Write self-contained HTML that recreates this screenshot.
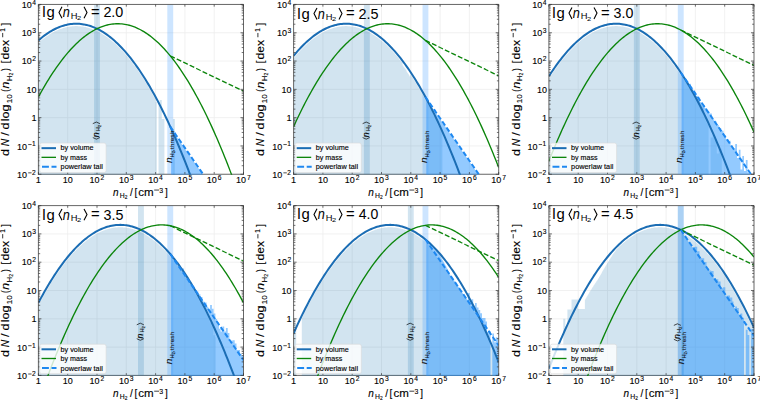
<!DOCTYPE html>
<html><head><meta charset="utf-8"><style>html,body{margin:0;padding:0;background:#fff;width:760px;height:400px;overflow:hidden}svg{display:block}</style></head>
<body>
<svg width="760" height="400" viewBox="0 0 760 400" style="font-family:'Liberation Sans',sans-serif">
<style>text{stroke:#000;stroke-width:0.12px}.t text{stroke:none}</style>
<rect width="760" height="400" fill="#fff"/>
<clipPath id="c0"><rect x="38.40" y="4.45" width="205.10" height="170.30"/></clipPath>
<path d="M38.00,174.25H243.90" stroke="#4a4a4a" stroke-width="0.85"/>
<g clip-path="url(#c0)">
<line x1="67.70" y1="4.45" x2="67.70" y2="174.25" stroke="#eeeeee" stroke-width="0.8"/>
<line x1="97.00" y1="4.45" x2="97.00" y2="174.25" stroke="#eeeeee" stroke-width="0.8"/>
<line x1="126.30" y1="4.45" x2="126.30" y2="174.25" stroke="#eeeeee" stroke-width="0.8"/>
<line x1="155.60" y1="4.45" x2="155.60" y2="174.25" stroke="#eeeeee" stroke-width="0.8"/>
<line x1="184.90" y1="4.45" x2="184.90" y2="174.25" stroke="#eeeeee" stroke-width="0.8"/>
<line x1="214.20" y1="4.45" x2="214.20" y2="174.25" stroke="#eeeeee" stroke-width="0.8"/>
<line x1="38.40" y1="145.95" x2="243.50" y2="145.95" stroke="#eeeeee" stroke-width="0.8"/>
<line x1="38.40" y1="117.65" x2="243.50" y2="117.65" stroke="#eeeeee" stroke-width="0.8"/>
<line x1="38.40" y1="89.35" x2="243.50" y2="89.35" stroke="#eeeeee" stroke-width="0.8"/>
<line x1="38.40" y1="61.05" x2="243.50" y2="61.05" stroke="#eeeeee" stroke-width="0.8"/>
<line x1="38.40" y1="32.75" x2="243.50" y2="32.75" stroke="#eeeeee" stroke-width="0.8"/>
<path d="M38.4,176.2V42.6H39.0V42.1H39.6V41.6H40.2V41.1H40.7V40.6H41.3V40.1H41.9V39.6H42.5V39.2H43.1V38.7H43.7V38.3H44.3V37.8H44.8V37.4H45.4V37.0H46.0V36.6H46.6V36.2H47.2V35.8H47.8V35.4H48.4V35.0H48.9V34.6H49.5V34.3H50.1V33.9H50.7V33.6H51.3V33.2H51.9V32.9H52.5V32.6H53.0V32.3H53.6V31.9H54.2V31.6H54.8V31.3H55.4V31.1H56.0V30.8H56.6V30.5H57.2V30.3H57.7V30.0H58.3V29.8H58.9V29.5H59.5V29.3H60.1V29.1H60.7V28.9H61.3V28.7H61.8V28.5H62.4V28.3H63.0V28.1H63.6V27.9H64.2V27.7H64.8V27.6H65.4V27.4H65.9V27.3H66.5V27.2H67.1V27.0H67.7V26.9H68.3V26.8H68.9V26.7H69.5V26.6H70.0V26.5H70.6V26.5H71.2V26.4H71.8V26.3H72.4V26.3H73.0V26.2H73.6V26.2H74.1V26.2H74.7V26.1H75.3V26.1H75.9V26.1H76.5V26.1H77.1V26.1H77.7V26.2H78.2V26.2H78.8V26.2H79.4V26.3H80.0V26.3H80.6V26.4H81.2V26.4H81.8V26.5H82.3V26.6H82.9V26.7H83.5V26.8H84.1V26.9H84.7V27.0H85.3V27.1H85.9V27.3H86.5V27.4H87.0V27.6H87.6V27.7H88.2V27.9H88.8V28.0H89.4V28.2H90.0V28.4H90.6V28.6H91.1V28.8H91.7V29.0H92.3V29.2H92.9V29.5H93.5V29.7H94.1V29.9H94.7V30.2H95.2V30.5H95.8V30.7H96.4V31.0H97.0V31.3H97.6V31.6H98.2V31.9H98.8V32.2H99.3V32.5H99.9V32.8H100.5V33.1H101.1V33.5H101.7V33.8H102.3V34.2H102.9V34.5H103.4V34.9H104.0V35.3H104.6V35.7H105.2V36.1H105.8V36.5H106.4V36.9H107.0V37.3H107.5V37.7H108.1V38.2H108.7V38.6H109.3V39.1H109.9V39.5H110.5V40.0H111.1V40.5H111.7V41.0H112.2V41.4H112.8V41.9H113.4V42.4H114.0V43.0H114.6V43.5H115.2V44.0H115.8V44.6H116.3V45.1H116.9V45.7H117.5V46.2H118.1V46.8H118.7V47.4H119.3V48.0H119.9V48.6H120.4V49.2H121.0V49.8H121.6V50.4H122.2V51.0H122.8V51.6H123.4V52.3H124.0V52.9H124.5V53.6H125.1V54.3H125.7V54.9H126.3V55.6H126.9V56.3H127.5V57.0H128.1V57.7H128.6V58.4H129.2V59.2H129.8V59.9H130.4V60.6H131.0V61.4H131.6V62.1H132.2V62.9H132.7V63.7H133.3V64.4H133.9V65.2H134.5V66.0H135.1V66.8H135.7V67.6H136.3V68.5H136.8V69.3H137.4V70.1H138.0V71.0H138.6V71.8H139.2V72.7H139.8V73.5H140.4V74.4H140.9V75.3H141.5V76.2H142.1V77.1H142.7V78.0H143.3V78.9H143.9V79.8H144.5V80.8H145.1V81.7H145.6V82.7H146.2V83.6H146.8V84.6H147.4V85.5H148.0V86.5H148.6V87.5H149.2V88.5H149.7V89.5H150.3V90.5H150.9V91.5H151.5V92.6H152.1V93.6H152.7V94.6H153.3V95.7H153.8V96.8H154.4V97.8H155.0V98.9H155.6V102.1H156.8V176.2ZM158.5,176.2V102.1H159.7V100.1H161.8V119.1H164.4V176.2ZM172.9,176.2V119.1H174.9V176.2Z" fill="#1f77b4" fill-opacity="0.20"/>
<path d="M171.1,176.2V129.2H171.7V130.0H172.3V130.9H172.9V131.7H173.5V132.6H174.1V133.4H174.6V134.2H175.2V135.1H175.8V135.9H176.4V136.8H177.0V137.6H177.6V138.5H178.2V139.3H178.7V140.2H179.3V141.0H179.9V141.9H180.5V142.7H181.1V143.6H181.7V144.4H182.3V145.3H182.8V146.1H183.4V147.0H184.0V147.8H184.6V148.7H185.2V149.5H185.8V150.4H186.4V151.2H187.0V152.1H187.5V152.9H188.1V153.8H188.7V154.6H189.3V155.5H189.9V156.3H190.5V157.2H191.1V158.0H191.6V158.9H192.2V159.7H192.8V160.6H193.4V161.4H194.0V162.3H194.6V163.1H195.2V164.0H195.7V164.8H196.3V165.7H196.9V166.5H197.5V167.4H198.1V168.2H198.7V169.1H199.3V169.9H199.8V170.8H200.4V171.6H201.0V172.5H201.6V173.3H202.2V174.2H202.8V175.0H203.4V175.8H203.9V176.7H204.5V177.5H205.1V178.4H205.7V179.2H206.3V176.2Z" fill="#1e90ff" fill-opacity="0.48"/>
<rect x="94.07" y="4.45" width="5.86" height="169.80" fill="#1f77b4" fill-opacity="0.2"/>
<rect x="167.32" y="4.45" width="5.86" height="169.80" fill="#3c9cff" fill-opacity="0.26"/>
<polyline points="38.40,40.43 39.87,39.16 41.33,37.94 42.80,36.78 44.26,35.66 45.72,34.59 47.19,33.57 48.66,32.61 50.12,31.69 51.59,30.82 53.05,30.00 54.52,29.24 55.98,28.52 57.45,27.85 58.91,27.23 60.38,26.67 61.84,26.15 63.30,25.68 64.77,25.26 66.23,24.90 67.70,24.58 69.16,24.31 70.63,24.09 72.09,23.93 73.56,23.81 75.03,23.74 76.49,23.72 77.95,23.76 79.42,23.84 80.88,23.97 82.35,24.15 83.81,24.39 85.28,24.67 86.75,25.00 88.21,25.38 89.67,25.82 91.14,26.30 92.60,26.83 94.07,27.41 95.53,28.05 97.00,28.73 98.46,29.46 99.93,30.24 101.39,31.08 102.86,31.96 104.32,32.89 105.79,33.87 107.25,34.91 108.72,35.99 110.19,37.12 111.65,38.30 113.11,39.54 114.58,40.82 116.04,42.15 117.51,43.53 118.97,44.97 120.44,46.45 121.91,47.98 123.37,49.56 124.84,51.20 126.30,52.88 127.76,54.61 129.23,56.39 130.69,58.23 132.16,60.11 133.62,62.04 135.09,64.02 136.56,66.06 138.02,68.14 139.49,70.27 140.95,72.45 142.41,74.69 143.88,76.97 145.34,79.30 146.81,81.69 148.28,84.12 149.74,86.60 151.21,89.13 152.67,91.72 154.13,94.35 155.60,97.03 157.06,99.76 158.53,102.55 160.00,105.38 161.46,108.26 162.92,111.19 164.39,114.18 165.85,117.21 167.32,120.29 168.79,123.42 170.25,126.61 171.72,129.84 173.18,133.12 174.65,136.46 176.11,139.84 177.58,143.27 179.04,146.75 180.50,150.29 181.97,153.87 183.44,157.50 184.90,161.18 186.37,164.92 187.83,168.70 189.30,172.53 190.76,176.41 192.22,180.35 193.69,184.33 195.16,188.36 196.62,192.45 198.09,196.58 199.55,200.76 201.01,204.99 202.48,209.28 203.94,213.61 205.41,217.99 206.88,222.42 208.34,226.91 209.80,231.44 211.27,236.02 212.73,240.65 214.20,245.34 215.66,250.07 217.13,254.85 218.60,259.69 220.06,264.57 221.53,269.50 222.99,274.48 224.46,279.52 225.92,284.60 227.39,289.73 228.85,294.91 230.31,300.15 231.78,305.43 233.25,310.76 234.71,316.15 236.18,321.58 237.64,327.06 239.10,332.59 240.57,338.18 242.03,343.81 243.50,349.49" fill="none" stroke="#1b6db4" stroke-width="2.00"/>
<polyline points="38.40,97.03 39.87,94.35 41.33,91.72 42.80,89.13 44.26,86.60 45.72,84.12 47.19,81.69 48.66,79.30 50.12,76.97 51.59,74.69 53.05,72.45 54.52,70.27 55.98,68.14 57.45,66.06 58.91,64.02 60.38,62.04 61.84,60.11 63.30,58.23 64.77,56.39 66.23,54.61 67.70,52.88 69.16,51.20 70.63,49.56 72.09,47.98 73.56,46.45 75.03,44.97 76.49,43.53 77.95,42.15 79.42,40.82 80.88,39.54 82.35,38.30 83.81,37.12 85.28,35.99 86.75,34.91 88.21,33.87 89.67,32.89 91.14,31.96 92.60,31.08 94.07,30.24 95.53,29.46 97.00,28.73 98.46,28.05 99.93,27.41 101.39,26.83 102.86,26.30 104.32,25.82 105.79,25.38 107.25,25.00 108.72,24.67 110.19,24.39 111.65,24.15 113.11,23.97 114.58,23.84 116.04,23.76 117.51,23.72 118.97,23.74 120.44,23.81 121.91,23.93 123.37,24.09 124.84,24.31 126.30,24.58 127.76,24.90 129.23,25.26 130.69,25.68 132.16,26.15 133.62,26.67 135.09,27.23 136.56,27.85 138.02,28.52 139.49,29.24 140.95,30.00 142.41,30.82 143.88,31.69 145.34,32.61 146.81,33.57 148.28,34.59 149.74,35.66 151.21,36.78 152.67,37.94 154.13,39.16 155.60,40.43 157.06,41.75 158.53,43.11 160.00,44.53 161.46,46.00 162.92,47.52 164.39,49.08 165.85,50.70 167.32,52.37 168.79,54.09 170.25,55.85 171.72,57.67 173.18,59.54 174.65,61.46 176.11,63.42 177.58,65.44 179.04,67.51 180.50,69.63 181.97,71.79 183.44,74.01 184.90,76.28 186.37,78.60 187.83,80.97 189.30,83.38 190.76,85.85 192.22,88.37 193.69,90.94 195.16,93.55 196.62,96.22 198.09,98.94 199.55,101.71 201.01,104.52 202.48,107.39 203.94,110.31 205.41,113.28 206.88,116.29 208.34,119.36 209.80,122.48 211.27,125.65 212.73,128.86 214.20,132.13 215.66,135.45 217.13,138.82 218.60,142.24 220.06,145.70 221.53,149.22 222.99,152.79 224.46,156.41 225.92,160.07 227.39,163.79 228.85,167.56 230.31,171.38 231.78,175.24 233.25,179.16 234.71,183.13 236.18,187.15 237.64,191.22 239.10,195.33 240.57,199.50 242.03,203.72 243.50,207.99" fill="none" stroke="#0b850b" stroke-width="1.35"/>
<polyline points="170.25,55.85 170.77,56.11 171.30,56.36 171.82,56.61 172.34,56.86 172.87,57.12 173.39,57.37 173.91,57.62 174.44,57.88 174.96,58.13 175.48,58.38 176.01,58.63 176.53,58.89 177.05,59.14 177.58,59.39 178.10,59.64 178.62,59.90 179.14,60.15 179.67,60.40 180.19,60.66 180.71,60.91 181.24,61.16 181.76,61.41 182.28,61.67 182.81,61.92 183.33,62.17 183.85,62.42 184.38,62.68 184.90,62.93 185.42,63.18 185.95,63.43 186.47,63.69 186.99,63.94 187.52,64.19 188.04,64.45 188.56,64.70 189.09,64.95 189.61,65.20 190.13,65.46 190.66,65.71 191.18,65.96 191.70,66.21 192.22,66.47 192.75,66.72 193.27,66.97 193.79,67.22 194.32,67.48 194.84,67.73 195.36,67.98 195.89,68.24 196.41,68.49 196.93,68.74 197.46,68.99 197.98,69.25 198.50,69.50 199.03,69.75 199.55,70.00 200.07,70.26 200.60,70.51 201.12,70.76 201.64,71.01 202.17,71.27 202.69,71.52 203.21,71.77 203.74,72.03 204.26,72.28 204.78,72.53 205.31,72.78 205.83,73.04 206.35,73.29 206.88,73.54 207.40,73.79 207.92,74.05 208.44,74.30 208.97,74.55 209.49,74.81 210.01,75.06 210.54,75.31 211.06,75.56 211.58,75.82 212.11,76.07 212.63,76.32 213.15,76.57 213.68,76.83 214.20,77.08 214.72,77.33 215.25,77.58 215.77,77.84 216.29,78.09 216.82,78.34 217.34,78.60 217.86,78.85 218.39,79.10 218.91,79.35 219.43,79.61 219.96,79.86 220.48,80.11 221.00,80.36 221.53,80.62 222.05,80.87 222.57,81.12 223.09,81.37 223.62,81.63 224.14,81.88 224.66,82.13 225.19,82.39 225.71,82.64 226.23,82.89 226.76,83.14 227.28,83.40 227.80,83.65 228.33,83.90 228.85,84.15 229.37,84.41 229.90,84.66 230.42,84.91 230.94,85.16 231.47,85.42 231.99,85.67 232.51,85.92 233.04,86.18 233.56,86.43 234.08,86.68 234.61,86.93 235.13,87.19 235.65,87.44 236.18,87.69 236.70,87.94 237.22,88.20 237.74,88.45 238.27,88.70 238.79,88.96 239.31,89.21 239.84,89.46 240.36,89.71 240.88,89.97 241.41,90.22 241.93,90.47 242.45,90.72 242.98,90.98 243.50,91.23" fill="none" stroke="#0b850b" stroke-width="1.35" stroke-dasharray="5,2.2"/>
<polyline points="170.25,126.61 170.77,127.37 171.30,128.12 171.82,128.88 172.34,129.64 172.87,130.40 173.39,131.16 173.91,131.91 174.44,132.67 174.96,133.43 175.48,134.19 176.01,134.95 176.53,135.70 177.05,136.46 177.58,137.22 178.10,137.98 178.62,138.74 179.14,139.49 179.67,140.25 180.19,141.01 180.71,141.77 181.24,142.53 181.76,143.28 182.28,144.04 182.81,144.80 183.33,145.56 183.85,146.32 184.38,147.07 184.90,147.83 185.42,148.59 185.95,149.35 186.47,150.11 186.99,150.86 187.52,151.62 188.04,152.38 188.56,153.14 189.09,153.90 189.61,154.65 190.13,155.41 190.66,156.17 191.18,156.93 191.70,157.69 192.22,158.44 192.75,159.20 193.27,159.96 193.79,160.72 194.32,161.48 194.84,162.24 195.36,162.99 195.89,163.75 196.41,164.51 196.93,165.27 197.46,166.03 197.98,166.78 198.50,167.54 199.03,168.30 199.55,169.06 200.07,169.82 200.60,170.57 201.12,171.33 201.64,172.09 202.17,172.85 202.69,173.61 203.21,174.36 203.74,175.12 204.26,175.88 204.78,176.64 205.31,177.40 205.83,178.15 206.35,178.91 206.88,179.67 207.40,180.43 207.92,181.19 208.44,181.94 208.97,182.70 209.49,183.46 210.01,184.22 210.54,184.98 211.06,185.73 211.58,186.49 212.11,187.25 212.63,188.01 213.15,188.77 213.68,189.52 214.20,190.28 214.72,191.04 215.25,191.80 215.77,192.56 216.29,193.31 216.82,194.07 217.34,194.83 217.86,195.59 218.39,196.35 218.91,197.10 219.43,197.86 219.96,198.62 220.48,199.38 221.00,200.14 221.53,200.89 222.05,201.65 222.57,202.41 223.09,203.17 223.62,203.93 224.14,204.69 224.66,205.44 225.19,206.20 225.71,206.96 226.23,207.72 226.76,208.48 227.28,209.23 227.80,209.99 228.33,210.75 228.85,211.51 229.37,212.27 229.90,213.02 230.42,213.78 230.94,214.54 231.47,215.30 231.99,216.06 232.51,216.81 233.04,217.57 233.56,218.33 234.08,219.09 234.61,219.85 235.13,220.60 235.65,221.36 236.18,222.12 236.70,222.88 237.22,223.64 237.74,224.39 238.27,225.15 238.79,225.91 239.31,226.67 239.84,227.43 240.36,228.18 240.88,228.94 241.41,229.70 241.93,230.46 242.45,231.22 242.98,231.97 243.50,232.73" fill="none" stroke="#1e88f0" stroke-width="2.00" stroke-dasharray="5,2.4"/>
</g>
<g transform="translate(99.10,139.25) rotate(-90)">
<path d="M1.7,-6.3L0.1,-2.75L1.7,0.8" stroke="#111" stroke-width="0.75" fill="none"/>
<text x="1.9" y="0" font-size="8.8" font-style="italic" fill="#111" stroke="#111" stroke-width="0.2">n</text>
<text x="7.9" y="1.1" font-size="5.8" fill="#111" stroke="#111" stroke-width="0.15">H</text>
<text x="11.9" y="1.9" font-size="4.2" fill="#111">2</text>
<path d="M15.6,-6.3L17.2,-2.75L15.6,0.8" stroke="#111" stroke-width="0.75" fill="none"/>
</g>
<g transform="translate(171.65,162.75) rotate(-90)">
<text transform="scale(1.15,1)" x="-0.3" y="0" font-size="8.8" font-style="italic" fill="#111" stroke="#111" stroke-width="0.2">n</text>
<text x="5.3" y="2.2" font-size="5.8" fill="#111">H</text>
<text x="9.4" y="2.9" font-size="4.3" fill="#111">2</text>
<text x="11.4" y="2.2" font-size="5.8" fill="#111">,</text>
<text x="13.6" y="2.2" font-size="5.8" fill="#333" stroke="none" textLength="18.5" lengthAdjust="spacingAndGlyphs">thresh</text>
</g>
<path d="M38.40,174.65V4.45H243.50V174.65" fill="none" stroke="#4a4a4a" stroke-width="0.85"/>
<path d="M38.40,174.25v-2.2M38.40,4.45v2.2M67.70,174.25v-2.2M67.70,4.45v2.2M97.00,174.25v-2.2M97.00,4.45v2.2M126.30,174.25v-2.2M126.30,4.45v2.2M155.60,174.25v-2.2M155.60,4.45v2.2M184.90,174.25v-2.2M184.90,4.45v2.2M214.20,174.25v-2.2M214.20,4.45v2.2M243.50,174.25v-2.2M243.50,4.45v2.2M38.40,174.25h3M243.50,174.25h-3M38.40,165.73h1.8M243.50,165.73h-1.8M38.40,160.75h1.8M243.50,160.75h-1.8M38.40,157.21h1.8M243.50,157.21h-1.8M38.40,154.47h1.8M243.50,154.47h-1.8M38.40,152.23h1.8M243.50,152.23h-1.8M38.40,150.33h1.8M243.50,150.33h-1.8M38.40,148.69h1.8M243.50,148.69h-1.8M38.40,147.24h1.8M243.50,147.24h-1.8M38.40,145.95h3M243.50,145.95h-3M38.40,137.43h1.8M243.50,137.43h-1.8M38.40,132.45h1.8M243.50,132.45h-1.8M38.40,128.91h1.8M243.50,128.91h-1.8M38.40,126.17h1.8M243.50,126.17h-1.8M38.40,123.93h1.8M243.50,123.93h-1.8M38.40,122.03h1.8M243.50,122.03h-1.8M38.40,120.39h1.8M243.50,120.39h-1.8M38.40,118.94h1.8M243.50,118.94h-1.8M38.40,117.65h3M243.50,117.65h-3M38.40,109.13h1.8M243.50,109.13h-1.8M38.40,104.15h1.8M243.50,104.15h-1.8M38.40,100.61h1.8M243.50,100.61h-1.8M38.40,97.87h1.8M243.50,97.87h-1.8M38.40,95.63h1.8M243.50,95.63h-1.8M38.40,93.73h1.8M243.50,93.73h-1.8M38.40,92.09h1.8M243.50,92.09h-1.8M38.40,90.64h1.8M243.50,90.64h-1.8M38.40,89.35h3M243.50,89.35h-3M38.40,80.83h1.8M243.50,80.83h-1.8M38.40,75.85h1.8M243.50,75.85h-1.8M38.40,72.31h1.8M243.50,72.31h-1.8M38.40,69.57h1.8M243.50,69.57h-1.8M38.40,67.33h1.8M243.50,67.33h-1.8M38.40,65.43h1.8M243.50,65.43h-1.8M38.40,63.79h1.8M243.50,63.79h-1.8M38.40,62.34h1.8M243.50,62.34h-1.8M38.40,61.05h3M243.50,61.05h-3M38.40,52.53h1.8M243.50,52.53h-1.8M38.40,47.55h1.8M243.50,47.55h-1.8M38.40,44.01h1.8M243.50,44.01h-1.8M38.40,41.27h1.8M243.50,41.27h-1.8M38.40,39.03h1.8M243.50,39.03h-1.8M38.40,37.13h1.8M243.50,37.13h-1.8M38.40,35.49h1.8M243.50,35.49h-1.8M38.40,34.04h1.8M243.50,34.04h-1.8M38.40,32.75h3M243.50,32.75h-3M38.40,24.23h1.8M243.50,24.23h-1.8M38.40,19.25h1.8M243.50,19.25h-1.8M38.40,15.71h1.8M243.50,15.71h-1.8M38.40,12.97h1.8M243.50,12.97h-1.8M38.40,10.73h1.8M243.50,10.73h-1.8M38.40,8.83h1.8M243.50,8.83h-1.8M38.40,7.19h1.8M243.50,7.19h-1.8M38.40,5.74h1.8M243.50,5.74h-1.8M38.40,4.45h3M243.50,4.45h-3" stroke="#333" stroke-width="0.7" fill="none"/>
<rect x="39.70" y="143.05" width="66.4" height="29.5" rx="2" fill="#fff" fill-opacity="0.8" stroke="#d8d8d8" stroke-width="0.6"/>
<path d="M41.50,148.15h14.5" stroke="#1b6db4" stroke-width="2"/>
<path d="M41.50,157.35h14.5" stroke="#0b850b" stroke-width="1.35"/>
<path d="M42.00,166.85h14.5" stroke="#1e88f0" stroke-width="2" stroke-dasharray="6.9,2.6"/>
<text x="60.60" y="150.35" font-size="7.0" textLength="33" lengthAdjust="spacingAndGlyphs">by volume</text>
<text x="60.60" y="159.85" font-size="7.0" textLength="26.5" lengthAdjust="spacingAndGlyphs">by mass</text>
<text x="60.60" y="169.45" font-size="7.0" textLength="42.3" lengthAdjust="spacingAndGlyphs">powerlaw tail</text>
<text x="38.40" y="182.65" font-size="9.2" text-anchor="middle">1</text>
<text x="67.70" y="182.65" font-size="9.2" text-anchor="middle" textLength="10" lengthAdjust="spacingAndGlyphs">10</text>
<text x="89.60" y="182.65" font-size="9.2" textLength="10" lengthAdjust="spacingAndGlyphs">10</text>
<text x="100.50" y="179.65" font-size="6.7">2</text>
<text x="118.90" y="182.65" font-size="9.2" textLength="10" lengthAdjust="spacingAndGlyphs">10</text>
<text x="129.80" y="179.65" font-size="6.7">3</text>
<text x="148.20" y="182.65" font-size="9.2" textLength="10" lengthAdjust="spacingAndGlyphs">10</text>
<text x="159.10" y="179.65" font-size="6.7">4</text>
<text x="177.50" y="182.65" font-size="9.2" textLength="10" lengthAdjust="spacingAndGlyphs">10</text>
<text x="188.40" y="179.65" font-size="6.7">5</text>
<text x="206.80" y="182.65" font-size="9.2" textLength="10" lengthAdjust="spacingAndGlyphs">10</text>
<text x="217.70" y="179.65" font-size="6.7">6</text>
<text x="236.10" y="182.65" font-size="9.2" textLength="10" lengthAdjust="spacingAndGlyphs">10</text>
<text x="247.00" y="179.65" font-size="6.7">7</text>
<text x="17.10" y="177.95" font-size="9.2" textLength="10" lengthAdjust="spacingAndGlyphs">10</text>
<path d="M28.20,172.85h3.4" stroke="#000" stroke-width="0.7"/>
<text x="32.00" y="174.75" font-size="6.6">2</text>
<text x="17.10" y="149.65" font-size="9.2" textLength="10" lengthAdjust="spacingAndGlyphs">10</text>
<path d="M28.20,144.55h3.4" stroke="#000" stroke-width="0.7"/>
<text x="32.00" y="146.45" font-size="6.6">1</text>
<text x="36.50" y="121.05" font-size="9.2" text-anchor="end">1</text>
<text x="36.40" y="92.75" font-size="9.2" text-anchor="end" textLength="10" lengthAdjust="spacingAndGlyphs">10</text>
<text x="21.80" y="64.15" font-size="9.2" textLength="10" lengthAdjust="spacingAndGlyphs">10</text>
<text x="32.30" y="61.15" font-size="6.7">2</text>
<text x="21.80" y="35.85" font-size="9.2" textLength="10" lengthAdjust="spacingAndGlyphs">10</text>
<text x="32.30" y="32.85" font-size="6.7">3</text>
<text x="21.80" y="7.55" font-size="9.2" textLength="10" lengthAdjust="spacingAndGlyphs">10</text>
<text x="32.30" y="4.55" font-size="6.7">4</text>
<text x="113.00" y="195.55" font-size="10" font-style="italic">n</text>
<text x="119.70" y="197.55" font-size="6.8">H</text>
<text x="124.80" y="198.65" font-size="4.8">2</text>
<text x="130.10" y="195.55" font-size="10">/</text>
<text x="134.40" y="195.55" font-size="10">[</text>
<text x="138.20" y="195.55" font-size="10" textLength="15.4" lengthAdjust="spacingAndGlyphs">cm</text>
<path d="M154.20,190.05h4.9" stroke="#000" stroke-width="0.75"/>
<text x="159.30" y="192.55" font-size="6.9">3</text>
<text x="165.00" y="195.55" font-size="10">]</text>
<g transform="translate(9.10,156.05) rotate(-90)">
<text transform="translate(0.70,0.00) scale(1.197,1)" x="-0.44" y="0" font-size="10.40">d</text>
<text transform="translate(10.20,0.00) scale(0.987,1)" x="-0.32" y="0" font-size="10.40" font-style="italic">N</text>
<text transform="translate(20.20,0.00) scale(1.246,1)" x="-0.00" y="0" font-size="10.40">/</text>
<text transform="translate(27.20,0.00) scale(1.197,1)" x="-0.44" y="0" font-size="10.40">d</text>
<text transform="translate(35.70,0.00) scale(1.207,1)" x="-0.70" y="0" font-size="10.40">log</text>
<text transform="translate(53.45,2.60) scale(1.098,1)" x="-0.56" y="0" font-size="7.40">10</text>
<text transform="translate(64.70,0.00) scale(0.800,1)" x="-0.64" y="0" font-size="10.40">(</text>
<text transform="translate(67.70,0.00) scale(1.187,1)" x="-0.17" y="0" font-size="10.40" font-style="italic">n</text>
<text transform="translate(75.40,2.60) scale(1.094,1)" x="-0.59" y="0" font-size="7.20">H</text>
<text transform="translate(80.80,3.80) scale(0.971,1)" x="-0.26" y="0" font-size="5.20">2</text>
<text transform="translate(85.20,0.00) scale(0.800,1)" x="-0.06" y="0" font-size="10.40">)</text>
<text transform="translate(93.40,0.00) scale(0.919,1)" x="-0.74" y="0" font-size="10.40">[</text>
<text transform="translate(97.10,0.00) scale(1.171,1)" x="-0.44" y="0" font-size="10.40">dex</text>
<text transform="translate(124.80,-3.90) scale(0.846,1)" x="-0.56" y="0" font-size="7.40">1</text>
<text transform="translate(130.50,0.00) scale(0.919,1)" x="-0.08" y="0" font-size="10.40">]</text>
<path d="M118.8,-6.4h4.3" stroke="#000" stroke-width="0.8"/>
</g>
<g class="t">
<text transform="translate(43.25,17.40) scale(1.059,1)" x="-0.98" y="0" font-size="14.50">l</text>
<text transform="translate(47.10,17.40) scale(1.027,1)" x="-0.61" y="0" font-size="14.50">g</text>
<path d="M62.00,6.80L59.00,12.40L62.00,18.20" stroke="#000" stroke-width="1.1" fill="none"/>
<text transform="translate(63.00,17.40) scale(0.879,1)" x="-0.24" y="0" font-size="14.50" font-style="italic">n</text>
<text transform="translate(71.40,18.50) scale(1.108,1)" x="-0.69" y="0" font-size="8.40">H</text>
<text transform="translate(77.30,20.20) scale(1.204,1)" x="-0.31" y="0" font-size="6.20">2</text>
<path d="M84.00,6.80L87.00,12.40L84.00,18.20" stroke="#000" stroke-width="1.1" fill="none"/>
<text transform="translate(91.60,17.10) scale(1.022,1)" x="-0.71" y="0" font-size="14.50">=</text>
<text transform="translate(104.10,17.40) scale(0.958,1)" x="-0.75" y="0" font-size="15.00">2.0</text>
</g>
<clipPath id="c1"><rect x="293.60" y="4.45" width="205.10" height="170.30"/></clipPath>
<path d="M293.20,174.25H499.10" stroke="#4a4a4a" stroke-width="0.85"/>
<g clip-path="url(#c1)">
<line x1="322.90" y1="4.45" x2="322.90" y2="174.25" stroke="#eeeeee" stroke-width="0.8"/>
<line x1="352.20" y1="4.45" x2="352.20" y2="174.25" stroke="#eeeeee" stroke-width="0.8"/>
<line x1="381.50" y1="4.45" x2="381.50" y2="174.25" stroke="#eeeeee" stroke-width="0.8"/>
<line x1="410.80" y1="4.45" x2="410.80" y2="174.25" stroke="#eeeeee" stroke-width="0.8"/>
<line x1="440.10" y1="4.45" x2="440.10" y2="174.25" stroke="#eeeeee" stroke-width="0.8"/>
<line x1="469.40" y1="4.45" x2="469.40" y2="174.25" stroke="#eeeeee" stroke-width="0.8"/>
<line x1="293.60" y1="145.95" x2="498.70" y2="145.95" stroke="#eeeeee" stroke-width="0.8"/>
<line x1="293.60" y1="117.65" x2="498.70" y2="117.65" stroke="#eeeeee" stroke-width="0.8"/>
<line x1="293.60" y1="89.35" x2="498.70" y2="89.35" stroke="#eeeeee" stroke-width="0.8"/>
<line x1="293.60" y1="61.05" x2="498.70" y2="61.05" stroke="#eeeeee" stroke-width="0.8"/>
<line x1="293.60" y1="32.75" x2="498.70" y2="32.75" stroke="#eeeeee" stroke-width="0.8"/>
<path d="M293.6,176.2V57.9H294.2V57.2H294.8V56.5H295.4V55.8H295.9V55.1H296.5V54.4H297.1V53.8H297.7V53.1H298.3V52.5H298.9V51.8H299.5V51.2H300.0V50.5H300.6V49.9H301.2V49.3H301.8V48.7H302.4V48.1H303.0V47.5H303.6V46.9H304.1V46.4H304.7V45.8H305.3V45.2H305.9V44.7H306.5V44.2H307.1V43.6H307.7V43.1H308.2V42.6H308.8V42.1H309.4V41.6H310.0V41.1H310.6V40.6H311.2V40.1H311.8V39.6H312.4V39.2H312.9V38.7H313.5V38.3H314.1V37.8H314.7V37.4H315.3V37.0H315.9V36.6H316.5V36.2H317.0V35.8H317.6V35.4H318.2V35.0H318.8V34.6H319.4V34.3H320.0V33.9H320.6V33.6H321.1V33.2H321.7V32.9H322.3V32.6H322.9V32.3H323.5V31.9H324.1V31.6H324.7V31.3H325.2V31.1H325.8V30.8H326.4V30.5H327.0V30.3H327.6V30.0H328.2V29.8H328.8V29.5H329.3V29.3H329.9V29.1H330.5V28.9H331.1V28.7H331.7V28.5H332.3V28.3H332.9V28.1H333.4V27.9H334.0V27.7H334.6V27.6H335.2V27.4H335.8V27.3H336.4V27.2H337.0V27.0H337.6V26.9H338.1V26.8H338.7V26.7H339.3V26.6H339.9V26.5H340.5V26.5H341.1V26.4H341.7V26.3H342.2V26.3H342.8V26.2H343.4V26.2H344.0V26.2H344.6V26.1H345.2V26.1H345.8V26.1H346.3V26.1H346.9V26.1H347.5V26.2H348.1V26.2H348.7V26.2H349.3V26.3H349.9V26.3H350.4V26.4H351.0V26.4H351.6V26.5H352.2V26.6H352.8V26.7H353.4V26.8H354.0V26.9H354.5V27.0H355.1V27.1H355.7V27.3H356.3V27.4H356.9V27.6H357.5V27.7H358.1V27.9H358.6V28.0H359.2V28.2H359.8V28.4H360.4V28.6H361.0V28.8H361.6V29.0H362.2V29.2H362.7V29.5H363.3V29.7H363.9V29.9H364.5V30.2H365.1V30.5H365.7V30.7H366.3V31.0H366.9V31.3H367.4V31.6H368.0V31.9H368.6V32.2H369.2V32.5H369.8V32.8H370.4V33.1H371.0V33.5H371.5V33.8H372.1V34.2H372.7V34.5H373.3V34.9H373.9V35.3H374.5V35.7H375.1V36.1H375.6V36.5H376.2V36.9H376.8V37.3H377.4V37.7H378.0V38.2H378.6V38.6H379.2V39.1H379.7V39.5H380.3V40.0H380.9V40.5H381.5V41.0H382.1V41.4H382.7V41.9H383.3V42.4H383.8V43.0H384.4V43.5H385.0V44.0H385.6V44.6H386.2V45.1H386.8V45.7H387.4V46.2H387.9V46.8H388.5V47.4H389.1V48.0H389.7V48.6H390.3V49.2H390.9V49.8H391.5V50.4H392.0V51.0H392.6V51.6H393.2V52.3H393.8V52.9H394.4V53.6H395.0V54.3H395.6V54.9H396.2V55.6H396.7V56.3H397.3V57.0H397.9V57.7H398.5V58.4H399.1V59.2H399.7V59.9H400.3V60.6H400.8V61.4H401.4V62.1H402.0V62.9H402.6V65.6H403.2V66.4H403.8V67.2H404.4V68.0H404.9V68.8H405.5V69.6H406.1V70.4H406.7V72.1H407.3V73.0H407.9V73.8H408.5V74.6H409.0V75.5H409.6V76.4H410.2V74.4H410.8V75.3H411.4V76.2H412.0V77.1H412.6V78.0H413.1V78.9H413.7V79.8H414.3V80.8H414.9V81.7H415.5V82.7H416.1V83.6H416.7V84.6H417.2V85.5H417.8V86.5H418.4V87.5H419.0V88.5H419.6V89.5H420.2V90.5H420.8V91.5H421.3V92.6H421.9V93.6H422.5V94.6H423.1V95.7H423.7V96.8H424.3V97.8H424.9V98.9H425.5V100.0H426.0V101.1H426.6V102.2H427.2V103.3H427.8V104.4H428.4V105.5H429.0V106.6H429.6V107.8H430.1V108.9H430.7V110.1H431.3V111.2H431.9V112.4H432.5V113.6H433.1V114.8H433.7V116.0H434.2V117.2H434.8V118.4H435.4V119.6H436.0V120.8H436.6V122.1H437.2V123.3H437.8V124.6H438.3V125.8H438.9V127.1H439.5V128.4H440.1V129.7H440.7V130.9H441.3V132.2H441.9V133.6H442.4V176.2Z" fill="#1f77b4" fill-opacity="0.20"/>
<path d="M426.3,176.2V99.6H426.9V100.4H427.5V101.3H428.1V102.1H428.7V103.0H429.3V103.8H429.8V104.7H430.4V105.5H431.0V106.4H431.6V107.2H432.2V108.1H432.8V108.9H433.4V109.8H433.9V110.6H434.5V111.5H435.1V112.3H435.7V113.2H436.3V114.0H436.9V114.9H437.5V115.7H438.0V116.6H438.6V117.4H439.2V118.3H439.8V119.1H440.4V120.0H441.0V120.8H441.6V121.7H442.2V122.5H442.7V123.4H443.3V124.2H443.9V125.0H444.5V125.9H445.1V126.7H445.7V127.6H446.3V128.4H446.8V129.3H447.4V130.1H448.0V131.0H448.6V131.8H449.2V132.7H449.8V133.5H450.4V134.4H450.9V135.2H451.5V136.1H452.1V136.9H452.7V137.8H453.3V138.6H453.9V139.5H454.5V140.3H455.0V141.2H455.6V142.0H456.2V142.9H456.8V143.7H457.4V144.6H458.0V145.4H458.6V146.3H459.1V147.1H459.7V148.0H460.3V148.8H460.9V149.7H461.5V150.5H462.1V151.4H462.7V152.2H463.2V153.1H463.8V153.9H464.4V154.8H465.0V155.6H465.6V156.5H466.2V157.3H466.8V158.2H467.3V159.0H467.9V159.9H468.5V160.7H469.1V161.6H469.7V162.4H470.3V163.3H470.9V164.1H471.5V165.0H472.0V165.8H472.6V166.6H473.2V167.5H473.8V168.3H474.4V169.2H475.0V170.0H475.6V170.9H476.1V171.7H476.7V172.6H477.3V173.4H477.9V174.3H478.5V175.1H479.1V176.0H479.7V176.8H480.2V177.7H480.8V178.5H481.4V179.4H482.0V176.2Z" fill="#1e90ff" fill-opacity="0.48"/>
<rect x="363.92" y="4.45" width="5.86" height="169.80" fill="#1f77b4" fill-opacity="0.2"/>
<rect x="422.52" y="4.45" width="5.86" height="169.80" fill="#3c9cff" fill-opacity="0.26"/>
<polyline points="293.60,55.85 295.06,54.09 296.53,52.37 298.00,50.70 299.46,49.08 300.93,47.52 302.39,46.00 303.86,44.53 305.32,43.11 306.79,41.75 308.25,40.43 309.72,39.16 311.18,37.94 312.65,36.78 314.11,35.66 315.58,34.59 317.04,33.57 318.50,32.61 319.97,31.69 321.44,30.82 322.90,30.00 324.37,29.24 325.83,28.52 327.30,27.85 328.76,27.23 330.23,26.67 331.69,26.15 333.16,25.68 334.62,25.26 336.09,24.90 337.55,24.58 339.02,24.31 340.48,24.09 341.95,23.93 343.41,23.81 344.88,23.74 346.34,23.72 347.81,23.76 349.27,23.84 350.74,23.97 352.20,24.15 353.67,24.39 355.13,24.67 356.60,25.00 358.06,25.38 359.53,25.82 360.99,26.30 362.46,26.83 363.92,27.41 365.39,28.05 366.85,28.73 368.31,29.46 369.78,30.24 371.25,31.08 372.71,31.96 374.18,32.89 375.64,33.87 377.11,34.91 378.57,35.99 380.04,37.12 381.50,38.30 382.97,39.54 384.43,40.82 385.90,42.15 387.36,43.53 388.83,44.97 390.29,46.45 391.75,47.98 393.22,49.56 394.69,51.20 396.15,52.88 397.62,54.61 399.08,56.39 400.55,58.23 402.01,60.11 403.48,62.04 404.94,64.02 406.41,66.06 407.87,68.14 409.34,70.27 410.80,72.45 412.26,74.69 413.73,76.97 415.20,79.30 416.66,81.69 418.12,84.12 419.59,86.60 421.06,89.13 422.52,91.72 423.99,94.35 425.45,97.03 426.92,99.76 428.38,102.55 429.85,105.38 431.31,108.26 432.78,111.19 434.24,114.18 435.71,117.21 437.17,120.29 438.63,123.42 440.10,126.61 441.57,129.84 443.03,133.12 444.50,136.46 445.96,139.84 447.43,143.27 448.89,146.75 450.36,150.29 451.82,153.87 453.29,157.50 454.75,161.18 456.22,164.92 457.68,168.70 459.14,172.53 460.61,176.41 462.08,180.35 463.54,184.33 465.00,188.36 466.47,192.45 467.94,196.58 469.40,200.76 470.87,204.99 472.33,209.28 473.80,213.61 475.26,217.99 476.73,222.42 478.19,226.91 479.66,231.44 481.12,236.02 482.59,240.65 484.05,245.34 485.51,250.07 486.98,254.85 488.45,259.69 489.91,264.57 491.38,269.50 492.84,274.48 494.31,279.52 495.77,284.60 497.24,289.73 498.70,294.91" fill="none" stroke="#1b6db4" stroke-width="2.00"/>
<polyline points="293.60,126.61 295.06,123.42 296.53,120.29 298.00,117.21 299.46,114.18 300.93,111.19 302.39,108.26 303.86,105.38 305.32,102.55 306.79,99.76 308.25,97.03 309.72,94.35 311.18,91.72 312.65,89.13 314.11,86.60 315.58,84.12 317.04,81.69 318.50,79.30 319.97,76.97 321.44,74.69 322.90,72.45 324.37,70.27 325.83,68.14 327.30,66.06 328.76,64.02 330.23,62.04 331.69,60.11 333.16,58.23 334.62,56.39 336.09,54.61 337.55,52.88 339.02,51.20 340.48,49.56 341.95,47.98 343.41,46.45 344.88,44.97 346.34,43.53 347.81,42.15 349.27,40.82 350.74,39.54 352.20,38.30 353.67,37.12 355.13,35.99 356.60,34.91 358.06,33.87 359.53,32.89 360.99,31.96 362.46,31.08 363.92,30.24 365.39,29.46 366.85,28.73 368.31,28.05 369.78,27.41 371.25,26.83 372.71,26.30 374.18,25.82 375.64,25.38 377.11,25.00 378.57,24.67 380.04,24.39 381.50,24.15 382.97,23.97 384.43,23.84 385.90,23.76 387.36,23.72 388.83,23.74 390.29,23.81 391.75,23.93 393.22,24.09 394.69,24.31 396.15,24.58 397.62,24.90 399.08,25.26 400.55,25.68 402.01,26.15 403.48,26.67 404.94,27.23 406.41,27.85 407.87,28.52 409.34,29.24 410.80,30.00 412.26,30.82 413.73,31.69 415.20,32.61 416.66,33.57 418.12,34.59 419.59,35.66 421.06,36.78 422.52,37.94 423.99,39.16 425.45,40.43 426.92,41.75 428.38,43.11 429.85,44.53 431.31,46.00 432.78,47.52 434.24,49.08 435.71,50.70 437.17,52.37 438.63,54.09 440.10,55.85 441.57,57.67 443.03,59.54 444.50,61.46 445.96,63.42 447.43,65.44 448.89,67.51 450.36,69.63 451.82,71.79 453.29,74.01 454.75,76.28 456.22,78.60 457.68,80.97 459.14,83.38 460.61,85.85 462.08,88.37 463.54,90.94 465.00,93.55 466.47,96.22 467.94,98.94 469.40,101.71 470.87,104.52 472.33,107.39 473.80,110.31 475.26,113.28 476.73,116.29 478.19,119.36 479.66,122.48 481.12,125.65 482.59,128.86 484.05,132.13 485.51,135.45 486.98,138.82 488.45,142.24 489.91,145.70 491.38,149.22 492.84,152.79 494.31,156.41 495.77,160.07 497.24,163.79 498.70,167.56" fill="none" stroke="#0b850b" stroke-width="1.35"/>
<polyline points="425.45,40.43 425.97,40.68 426.50,40.93 427.02,41.19 427.54,41.44 428.07,41.69 428.59,41.94 429.11,42.20 429.64,42.45 430.16,42.70 430.68,42.96 431.21,43.21 431.73,43.46 432.25,43.71 432.78,43.97 433.30,44.22 433.82,44.47 434.34,44.72 434.87,44.98 435.39,45.23 435.91,45.48 436.44,45.73 436.96,45.99 437.48,46.24 438.01,46.49 438.53,46.75 439.05,47.00 439.58,47.25 440.10,47.50 440.62,47.76 441.15,48.01 441.67,48.26 442.19,48.51 442.72,48.77 443.24,49.02 443.76,49.27 444.29,49.53 444.81,49.78 445.33,50.03 445.86,50.28 446.38,50.54 446.90,50.79 447.43,51.04 447.95,51.29 448.47,51.55 448.99,51.80 449.52,52.05 450.04,52.30 450.56,52.56 451.09,52.81 451.61,53.06 452.13,53.32 452.66,53.57 453.18,53.82 453.70,54.07 454.23,54.33 454.75,54.58 455.27,54.83 455.80,55.08 456.32,55.34 456.84,55.59 457.37,55.84 457.89,56.09 458.41,56.35 458.94,56.60 459.46,56.85 459.98,57.11 460.51,57.36 461.03,57.61 461.55,57.86 462.08,58.12 462.60,58.37 463.12,58.62 463.64,58.87 464.17,59.13 464.69,59.38 465.21,59.63 465.74,59.88 466.26,60.14 466.78,60.39 467.31,60.64 467.83,60.90 468.35,61.15 468.88,61.40 469.40,61.65 469.92,61.91 470.45,62.16 470.97,62.41 471.49,62.66 472.02,62.92 472.54,63.17 473.06,63.42 473.59,63.68 474.11,63.93 474.63,64.18 475.16,64.43 475.68,64.69 476.20,64.94 476.73,65.19 477.25,65.44 477.77,65.70 478.29,65.95 478.82,66.20 479.34,66.45 479.86,66.71 480.39,66.96 480.91,67.21 481.43,67.47 481.96,67.72 482.48,67.97 483.00,68.22 483.53,68.48 484.05,68.73 484.57,68.98 485.10,69.23 485.62,69.49 486.14,69.74 486.67,69.99 487.19,70.24 487.71,70.50 488.24,70.75 488.76,71.00 489.28,71.26 489.81,71.51 490.33,71.76 490.85,72.01 491.38,72.27 491.90,72.52 492.42,72.77 492.94,73.02 493.47,73.28 493.99,73.53 494.51,73.78 495.04,74.03 495.56,74.29 496.08,74.54 496.61,74.79 497.13,75.05 497.65,75.30 498.18,75.55 498.70,75.80" fill="none" stroke="#0b850b" stroke-width="1.35" stroke-dasharray="5,2.2"/>
<polyline points="425.45,97.03 425.97,97.79 426.50,98.55 427.02,99.31 427.54,100.06 428.07,100.82 428.59,101.58 429.11,102.34 429.64,103.10 430.16,103.85 430.68,104.61 431.21,105.37 431.73,106.13 432.25,106.89 432.78,107.64 433.30,108.40 433.82,109.16 434.34,109.92 434.87,110.68 435.39,111.43 435.91,112.19 436.44,112.95 436.96,113.71 437.48,114.47 438.01,115.22 438.53,115.98 439.05,116.74 439.58,117.50 440.10,118.26 440.62,119.01 441.15,119.77 441.67,120.53 442.19,121.29 442.72,122.05 443.24,122.80 443.76,123.56 444.29,124.32 444.81,125.08 445.33,125.84 445.86,126.59 446.38,127.35 446.90,128.11 447.43,128.87 447.95,129.63 448.47,130.38 448.99,131.14 449.52,131.90 450.04,132.66 450.56,133.42 451.09,134.17 451.61,134.93 452.13,135.69 452.66,136.45 453.18,137.21 453.70,137.96 454.23,138.72 454.75,139.48 455.27,140.24 455.80,141.00 456.32,141.76 456.84,142.51 457.37,143.27 457.89,144.03 458.41,144.79 458.94,145.55 459.46,146.30 459.98,147.06 460.51,147.82 461.03,148.58 461.55,149.34 462.08,150.09 462.60,150.85 463.12,151.61 463.64,152.37 464.17,153.13 464.69,153.88 465.21,154.64 465.74,155.40 466.26,156.16 466.78,156.92 467.31,157.67 467.83,158.43 468.35,159.19 468.88,159.95 469.40,160.71 469.92,161.46 470.45,162.22 470.97,162.98 471.49,163.74 472.02,164.50 472.54,165.25 473.06,166.01 473.59,166.77 474.11,167.53 474.63,168.29 475.16,169.04 475.68,169.80 476.20,170.56 476.73,171.32 477.25,172.08 477.77,172.83 478.29,173.59 478.82,174.35 479.34,175.11 479.86,175.87 480.39,176.62 480.91,177.38 481.43,178.14 481.96,178.90 482.48,179.66 483.00,180.41 483.53,181.17 484.05,181.93 484.57,182.69 485.10,183.45 485.62,184.21 486.14,184.96 486.67,185.72 487.19,186.48 487.71,187.24 488.24,188.00 488.76,188.75 489.28,189.51 489.81,190.27 490.33,191.03 490.85,191.79 491.38,192.54 491.90,193.30 492.42,194.06 492.94,194.82 493.47,195.58 493.99,196.33 494.51,197.09 495.04,197.85 495.56,198.61 496.08,199.37 496.61,200.12 497.13,200.88 497.65,201.64 498.18,202.40 498.70,203.16" fill="none" stroke="#1e88f0" stroke-width="2.00" stroke-dasharray="5,2.4"/>
</g>
<g transform="translate(368.95,139.25) rotate(-90)">
<path d="M1.7,-6.3L0.1,-2.75L1.7,0.8" stroke="#111" stroke-width="0.75" fill="none"/>
<text x="1.9" y="0" font-size="8.8" font-style="italic" fill="#111" stroke="#111" stroke-width="0.2">n</text>
<text x="7.9" y="1.1" font-size="5.8" fill="#111" stroke="#111" stroke-width="0.15">H</text>
<text x="11.9" y="1.9" font-size="4.2" fill="#111">2</text>
<path d="M15.6,-6.3L17.2,-2.75L15.6,0.8" stroke="#111" stroke-width="0.75" fill="none"/>
</g>
<g transform="translate(426.85,162.75) rotate(-90)">
<text transform="scale(1.15,1)" x="-0.3" y="0" font-size="8.8" font-style="italic" fill="#111" stroke="#111" stroke-width="0.2">n</text>
<text x="5.3" y="2.2" font-size="5.8" fill="#111">H</text>
<text x="9.4" y="2.9" font-size="4.3" fill="#111">2</text>
<text x="11.4" y="2.2" font-size="5.8" fill="#111">,</text>
<text x="13.6" y="2.2" font-size="5.8" fill="#333" stroke="none" textLength="18.5" lengthAdjust="spacingAndGlyphs">thresh</text>
</g>
<path d="M293.60,174.65V4.45H498.70V174.65" fill="none" stroke="#4a4a4a" stroke-width="0.85"/>
<path d="M293.60,174.25v-2.2M293.60,4.45v2.2M322.90,174.25v-2.2M322.90,4.45v2.2M352.20,174.25v-2.2M352.20,4.45v2.2M381.50,174.25v-2.2M381.50,4.45v2.2M410.80,174.25v-2.2M410.80,4.45v2.2M440.10,174.25v-2.2M440.10,4.45v2.2M469.40,174.25v-2.2M469.40,4.45v2.2M498.70,174.25v-2.2M498.70,4.45v2.2M293.60,174.25h3M498.70,174.25h-3M293.60,165.73h1.8M498.70,165.73h-1.8M293.60,160.75h1.8M498.70,160.75h-1.8M293.60,157.21h1.8M498.70,157.21h-1.8M293.60,154.47h1.8M498.70,154.47h-1.8M293.60,152.23h1.8M498.70,152.23h-1.8M293.60,150.33h1.8M498.70,150.33h-1.8M293.60,148.69h1.8M498.70,148.69h-1.8M293.60,147.24h1.8M498.70,147.24h-1.8M293.60,145.95h3M498.70,145.95h-3M293.60,137.43h1.8M498.70,137.43h-1.8M293.60,132.45h1.8M498.70,132.45h-1.8M293.60,128.91h1.8M498.70,128.91h-1.8M293.60,126.17h1.8M498.70,126.17h-1.8M293.60,123.93h1.8M498.70,123.93h-1.8M293.60,122.03h1.8M498.70,122.03h-1.8M293.60,120.39h1.8M498.70,120.39h-1.8M293.60,118.94h1.8M498.70,118.94h-1.8M293.60,117.65h3M498.70,117.65h-3M293.60,109.13h1.8M498.70,109.13h-1.8M293.60,104.15h1.8M498.70,104.15h-1.8M293.60,100.61h1.8M498.70,100.61h-1.8M293.60,97.87h1.8M498.70,97.87h-1.8M293.60,95.63h1.8M498.70,95.63h-1.8M293.60,93.73h1.8M498.70,93.73h-1.8M293.60,92.09h1.8M498.70,92.09h-1.8M293.60,90.64h1.8M498.70,90.64h-1.8M293.60,89.35h3M498.70,89.35h-3M293.60,80.83h1.8M498.70,80.83h-1.8M293.60,75.85h1.8M498.70,75.85h-1.8M293.60,72.31h1.8M498.70,72.31h-1.8M293.60,69.57h1.8M498.70,69.57h-1.8M293.60,67.33h1.8M498.70,67.33h-1.8M293.60,65.43h1.8M498.70,65.43h-1.8M293.60,63.79h1.8M498.70,63.79h-1.8M293.60,62.34h1.8M498.70,62.34h-1.8M293.60,61.05h3M498.70,61.05h-3M293.60,52.53h1.8M498.70,52.53h-1.8M293.60,47.55h1.8M498.70,47.55h-1.8M293.60,44.01h1.8M498.70,44.01h-1.8M293.60,41.27h1.8M498.70,41.27h-1.8M293.60,39.03h1.8M498.70,39.03h-1.8M293.60,37.13h1.8M498.70,37.13h-1.8M293.60,35.49h1.8M498.70,35.49h-1.8M293.60,34.04h1.8M498.70,34.04h-1.8M293.60,32.75h3M498.70,32.75h-3M293.60,24.23h1.8M498.70,24.23h-1.8M293.60,19.25h1.8M498.70,19.25h-1.8M293.60,15.71h1.8M498.70,15.71h-1.8M293.60,12.97h1.8M498.70,12.97h-1.8M293.60,10.73h1.8M498.70,10.73h-1.8M293.60,8.83h1.8M498.70,8.83h-1.8M293.60,7.19h1.8M498.70,7.19h-1.8M293.60,5.74h1.8M498.70,5.74h-1.8M293.60,4.45h3M498.70,4.45h-3" stroke="#333" stroke-width="0.7" fill="none"/>
<rect x="294.90" y="143.05" width="66.4" height="29.5" rx="2" fill="#fff" fill-opacity="0.8" stroke="#d8d8d8" stroke-width="0.6"/>
<path d="M296.70,148.15h14.5" stroke="#1b6db4" stroke-width="2"/>
<path d="M296.70,157.35h14.5" stroke="#0b850b" stroke-width="1.35"/>
<path d="M297.20,166.85h14.5" stroke="#1e88f0" stroke-width="2" stroke-dasharray="6.9,2.6"/>
<text x="315.80" y="150.35" font-size="7.0" textLength="33" lengthAdjust="spacingAndGlyphs">by volume</text>
<text x="315.80" y="159.85" font-size="7.0" textLength="26.5" lengthAdjust="spacingAndGlyphs">by mass</text>
<text x="315.80" y="169.45" font-size="7.0" textLength="42.3" lengthAdjust="spacingAndGlyphs">powerlaw tail</text>
<text x="293.60" y="182.65" font-size="9.2" text-anchor="middle">1</text>
<text x="322.90" y="182.65" font-size="9.2" text-anchor="middle" textLength="10" lengthAdjust="spacingAndGlyphs">10</text>
<text x="344.80" y="182.65" font-size="9.2" textLength="10" lengthAdjust="spacingAndGlyphs">10</text>
<text x="355.70" y="179.65" font-size="6.7">2</text>
<text x="374.10" y="182.65" font-size="9.2" textLength="10" lengthAdjust="spacingAndGlyphs">10</text>
<text x="385.00" y="179.65" font-size="6.7">3</text>
<text x="403.40" y="182.65" font-size="9.2" textLength="10" lengthAdjust="spacingAndGlyphs">10</text>
<text x="414.30" y="179.65" font-size="6.7">4</text>
<text x="432.70" y="182.65" font-size="9.2" textLength="10" lengthAdjust="spacingAndGlyphs">10</text>
<text x="443.60" y="179.65" font-size="6.7">5</text>
<text x="462.00" y="182.65" font-size="9.2" textLength="10" lengthAdjust="spacingAndGlyphs">10</text>
<text x="472.90" y="179.65" font-size="6.7">6</text>
<text x="491.30" y="182.65" font-size="9.2" textLength="10" lengthAdjust="spacingAndGlyphs">10</text>
<text x="502.20" y="179.65" font-size="6.7">7</text>
<text x="272.30" y="177.95" font-size="9.2" textLength="10" lengthAdjust="spacingAndGlyphs">10</text>
<path d="M283.40,172.85h3.4" stroke="#000" stroke-width="0.7"/>
<text x="287.20" y="174.75" font-size="6.6">2</text>
<text x="272.30" y="149.65" font-size="9.2" textLength="10" lengthAdjust="spacingAndGlyphs">10</text>
<path d="M283.40,144.55h3.4" stroke="#000" stroke-width="0.7"/>
<text x="287.20" y="146.45" font-size="6.6">1</text>
<text x="291.70" y="121.05" font-size="9.2" text-anchor="end">1</text>
<text x="291.60" y="92.75" font-size="9.2" text-anchor="end" textLength="10" lengthAdjust="spacingAndGlyphs">10</text>
<text x="277.00" y="64.15" font-size="9.2" textLength="10" lengthAdjust="spacingAndGlyphs">10</text>
<text x="287.50" y="61.15" font-size="6.7">2</text>
<text x="277.00" y="35.85" font-size="9.2" textLength="10" lengthAdjust="spacingAndGlyphs">10</text>
<text x="287.50" y="32.85" font-size="6.7">3</text>
<text x="277.00" y="7.55" font-size="9.2" textLength="10" lengthAdjust="spacingAndGlyphs">10</text>
<text x="287.50" y="4.55" font-size="6.7">4</text>
<text x="368.20" y="195.55" font-size="10" font-style="italic">n</text>
<text x="374.90" y="197.55" font-size="6.8">H</text>
<text x="380.00" y="198.65" font-size="4.8">2</text>
<text x="385.30" y="195.55" font-size="10">/</text>
<text x="389.60" y="195.55" font-size="10">[</text>
<text x="393.40" y="195.55" font-size="10" textLength="15.4" lengthAdjust="spacingAndGlyphs">cm</text>
<path d="M409.40,190.05h4.9" stroke="#000" stroke-width="0.75"/>
<text x="414.50" y="192.55" font-size="6.9">3</text>
<text x="420.20" y="195.55" font-size="10">]</text>
<g transform="translate(264.30,156.05) rotate(-90)">
<text transform="translate(0.70,0.00) scale(1.197,1)" x="-0.44" y="0" font-size="10.40">d</text>
<text transform="translate(10.20,0.00) scale(0.987,1)" x="-0.32" y="0" font-size="10.40" font-style="italic">N</text>
<text transform="translate(20.20,0.00) scale(1.246,1)" x="-0.00" y="0" font-size="10.40">/</text>
<text transform="translate(27.20,0.00) scale(1.197,1)" x="-0.44" y="0" font-size="10.40">d</text>
<text transform="translate(35.70,0.00) scale(1.207,1)" x="-0.70" y="0" font-size="10.40">log</text>
<text transform="translate(53.45,2.60) scale(1.098,1)" x="-0.56" y="0" font-size="7.40">10</text>
<text transform="translate(64.70,0.00) scale(0.800,1)" x="-0.64" y="0" font-size="10.40">(</text>
<text transform="translate(67.70,0.00) scale(1.187,1)" x="-0.17" y="0" font-size="10.40" font-style="italic">n</text>
<text transform="translate(75.40,2.60) scale(1.094,1)" x="-0.59" y="0" font-size="7.20">H</text>
<text transform="translate(80.80,3.80) scale(0.971,1)" x="-0.26" y="0" font-size="5.20">2</text>
<text transform="translate(85.20,0.00) scale(0.800,1)" x="-0.06" y="0" font-size="10.40">)</text>
<text transform="translate(93.40,0.00) scale(0.919,1)" x="-0.74" y="0" font-size="10.40">[</text>
<text transform="translate(97.10,0.00) scale(1.171,1)" x="-0.44" y="0" font-size="10.40">dex</text>
<text transform="translate(124.80,-3.90) scale(0.846,1)" x="-0.56" y="0" font-size="7.40">1</text>
<text transform="translate(130.50,0.00) scale(0.919,1)" x="-0.08" y="0" font-size="10.40">]</text>
<path d="M118.8,-6.4h4.3" stroke="#000" stroke-width="0.8"/>
</g>
<g class="t">
<text transform="translate(298.25,18.60) scale(1.059,1)" x="-0.98" y="0" font-size="14.50">l</text>
<text transform="translate(302.10,18.60) scale(1.027,1)" x="-0.61" y="0" font-size="14.50">g</text>
<path d="M317.00,8.00L314.00,13.60L317.00,19.40" stroke="#000" stroke-width="1.1" fill="none"/>
<text transform="translate(318.00,18.60) scale(0.879,1)" x="-0.24" y="0" font-size="14.50" font-style="italic">n</text>
<text transform="translate(326.40,19.70) scale(1.108,1)" x="-0.69" y="0" font-size="8.40">H</text>
<text transform="translate(332.30,21.40) scale(1.204,1)" x="-0.31" y="0" font-size="6.20">2</text>
<path d="M339.00,8.00L342.00,13.60L339.00,19.40" stroke="#000" stroke-width="1.1" fill="none"/>
<text transform="translate(346.60,18.30) scale(1.022,1)" x="-0.71" y="0" font-size="14.50">=</text>
<text transform="translate(359.10,18.60) scale(0.961,1)" x="-0.75" y="0" font-size="15.00">2.5</text>
</g>
<clipPath id="c2"><rect x="548.90" y="4.45" width="205.10" height="170.30"/></clipPath>
<path d="M548.50,174.25H754.40" stroke="#4a4a4a" stroke-width="0.85"/>
<g clip-path="url(#c2)">
<line x1="578.20" y1="4.45" x2="578.20" y2="174.25" stroke="#eeeeee" stroke-width="0.8"/>
<line x1="607.50" y1="4.45" x2="607.50" y2="174.25" stroke="#eeeeee" stroke-width="0.8"/>
<line x1="636.80" y1="4.45" x2="636.80" y2="174.25" stroke="#eeeeee" stroke-width="0.8"/>
<line x1="666.10" y1="4.45" x2="666.10" y2="174.25" stroke="#eeeeee" stroke-width="0.8"/>
<line x1="695.40" y1="4.45" x2="695.40" y2="174.25" stroke="#eeeeee" stroke-width="0.8"/>
<line x1="724.70" y1="4.45" x2="724.70" y2="174.25" stroke="#eeeeee" stroke-width="0.8"/>
<line x1="548.90" y1="145.95" x2="754.00" y2="145.95" stroke="#eeeeee" stroke-width="0.8"/>
<line x1="548.90" y1="117.65" x2="754.00" y2="117.65" stroke="#eeeeee" stroke-width="0.8"/>
<line x1="548.90" y1="89.35" x2="754.00" y2="89.35" stroke="#eeeeee" stroke-width="0.8"/>
<line x1="548.90" y1="61.05" x2="754.00" y2="61.05" stroke="#eeeeee" stroke-width="0.8"/>
<line x1="548.90" y1="32.75" x2="754.00" y2="32.75" stroke="#eeeeee" stroke-width="0.8"/>
<path d="M548.9,176.2V78.2H549.5V77.3H550.1V76.4H550.7V75.5H551.2V74.6H551.8V73.8H552.4V72.9H553.0V72.0H553.6V71.2H554.2V70.3H554.8V69.5H555.4V68.7H555.9V67.8H556.5V67.0H557.1V66.2H557.7V65.4H558.3V64.6H558.9V63.8H559.5V63.1H560.1V62.3H560.6V61.5H561.2V60.8H561.8V60.0H562.4V59.3H563.0V58.6H563.6V57.9H564.2V57.2H564.8V56.5H565.3V55.8H565.9V55.1H566.5V54.4H567.1V53.7H567.7V53.1H568.3V52.4H568.9V51.8H569.4V51.1H570.0V50.5H570.6V49.9H571.2V49.3H571.8V48.7H572.4V48.1H573.0V47.5H573.6V46.9H574.1V46.3H574.7V45.8H575.3V45.2H575.9V44.6H576.5V44.1H577.1V43.6H577.7V43.0H578.3V42.5H578.8V42.0H579.4V41.5H580.0V41.0H580.6V40.5H581.2V40.1H581.8V39.6H582.4V39.1H583.0V38.7H583.5V38.2H584.1V37.8H584.7V37.4H585.3V36.9H585.9V36.5H586.5V36.1H587.1V35.7H587.6V35.3H588.2V35.0H588.8V34.6H589.4V34.2H590.0V33.9H590.6V33.5H591.2V33.2H591.8V32.8H592.3V32.5H592.9V32.2H593.5V31.9H594.1V31.6H594.7V31.3H595.3V31.0H595.9V30.7H596.5V30.5H597.0V30.2H597.6V30.0H598.2V29.7H598.8V29.5H599.4V29.3H600.0V29.0H600.6V28.8H601.1V28.6H601.7V28.4H602.3V28.2H602.9V28.1H603.5V27.9H604.1V27.7H604.7V27.6H605.3V27.4H605.8V27.3H606.4V27.1H607.0V27.0H607.6V26.9H608.2V26.8H608.8V26.7H609.4V26.6H610.0V26.5H610.5V26.4H611.1V26.4H611.7V26.3H612.3V26.3H612.9V26.2H613.5V26.2H614.1V26.2H614.7V26.1H615.2V26.1H615.8V26.1H616.4V26.1H617.0V26.1H617.6V26.2H618.2V26.2H618.8V26.2H619.3V26.3H619.9V26.3H620.5V26.4H621.1V26.5H621.7V26.5H622.3V26.6H622.9V26.7H623.5V26.8H624.0V26.9H624.6V27.0H625.2V27.2H625.8V27.3H626.4V27.4H627.0V27.6H627.6V27.7H628.2V27.9H628.7V28.1H629.3V28.3H629.9V28.5H630.5V28.7H631.1V28.9H631.7V29.1H632.3V29.3H632.9V29.5H633.4V29.8H634.0V30.0H634.6V30.3H635.2V30.5H635.8V30.8H636.4V31.1H637.0V31.4H637.5V31.6H638.1V32.0H638.7V32.3H639.3V32.6H639.9V32.9H640.5V33.2H641.1V33.6H641.7V33.9H642.2V34.3H642.8V34.7H643.4V35.0H644.0V35.4H644.6V35.8H645.2V36.2H645.8V36.6H646.4V37.0H646.9V37.4H647.5V37.9H648.1V38.3H648.7V38.8H649.3V39.2H649.9V39.7H650.5V40.1H651.1V40.6H651.6V41.1H652.2V41.6H652.8V42.1H653.4V42.6H654.0V43.1H654.6V43.7H655.2V44.2H655.7V44.7H656.3V45.3H656.9V45.8H657.5V46.4H658.1V47.0H658.7V47.6H659.3V48.2H659.9V48.8H660.4V49.4H661.0V50.0H661.6V50.6H662.2V51.2H662.8V51.9H663.4V52.5H664.0V53.2H664.6V53.8H665.1V54.5H665.7V55.2H666.3V55.9H666.9V56.6H667.5V57.3H668.1V58.0H668.7V58.7H669.3V59.4H669.8V60.2H670.4V60.9H671.0V61.7H671.6V62.4H672.2V63.2H672.8V64.0H673.4V64.8H673.9V65.5H674.5V66.3H675.1V67.2H675.7V68.0H676.3V68.8H676.9V69.6H677.5V70.5H678.1V71.3H678.6V72.2H679.2V73.0H679.8V73.9H680.4V74.8H681.0V75.5H681.6V76.3H682.2V77.2H682.8V78.0H683.3V78.9H683.9V79.7H684.5V80.6H685.1V81.4H685.7V82.3H686.3V83.2H686.9V84.0H687.5V84.9H688.0V85.7H688.6V86.6H689.2V87.4H689.8V88.3H690.4V89.1H691.0V90.0H691.6V90.8H692.1V91.7H692.7V92.5H693.3V93.4H693.9V94.2H694.5V95.1H695.1V95.9H695.7V96.8H696.3V97.6H696.8V98.5H697.4V99.3H698.0V100.2H698.6V101.0H699.2V101.9H699.8V102.7H700.4V103.6H701.0V104.4H701.5V105.3H702.1V106.1H702.7V107.0H703.3V107.8H703.9V116.6H704.5V117.8H705.1V119.0H705.6V120.2H706.2V121.5H706.8V122.7H707.4V123.9H708.0V125.2H708.6V176.2ZM710.6,176.2V137.4H712.7V135.1H714.7V139.6H716.8V153.5H718.8V149.3H720.9V148.8H721.8V176.2Z" fill="#1f77b4" fill-opacity="0.20"/>
<path d="M681.6,176.2V75.0H682.2V75.9H682.8V76.7H683.4V77.3H683.7V78.0H686.0V82.2H688.4V83.7H690.7V87.9H693.1V92.1H695.4V95.7H697.7V97.5H700.1V102.2H702.4V105.3H704.8V108.1H707.1V111.7H709.5V113.5H711.8V119.3H714.2V121.3H716.5V124.9H718.8V127.9H721.2V130.8H723.5V135.4H725.9V138.9H728.2V140.8H730.6V145.8H732.9V147.3H733.5V148.5H735.2V144.1H737.0V158.1H738.8V149.8H740.5V169.6H742.3V156.1H744.0V171.1H745.8V160.1H747.6V172.4H749.3V179.4H751.1V176.2Z" fill="#1e90ff" fill-opacity="0.48"/>
<rect x="633.87" y="4.45" width="5.86" height="169.80" fill="#1f77b4" fill-opacity="0.2"/>
<rect x="677.82" y="4.45" width="5.86" height="169.80" fill="#3c9cff" fill-opacity="0.26"/>
<polyline points="548.90,76.28 550.37,74.01 551.83,71.79 553.29,69.63 554.76,67.51 556.23,65.44 557.69,63.42 559.15,61.46 560.62,59.54 562.08,57.67 563.55,55.85 565.01,54.09 566.48,52.37 567.94,50.70 569.41,49.08 570.88,47.52 572.34,46.00 573.80,44.53 575.27,43.11 576.74,41.75 578.20,40.43 579.66,39.16 581.13,37.94 582.60,36.78 584.06,35.66 585.52,34.59 586.99,33.57 588.45,32.61 589.92,31.69 591.38,30.82 592.85,30.00 594.31,29.24 595.78,28.52 597.25,27.85 598.71,27.23 600.17,26.67 601.64,26.15 603.11,25.68 604.57,25.26 606.03,24.90 607.50,24.58 608.96,24.31 610.43,24.09 611.89,23.93 613.36,23.81 614.82,23.74 616.29,23.72 617.75,23.76 619.22,23.84 620.68,23.97 622.15,24.15 623.62,24.39 625.08,24.67 626.54,25.00 628.01,25.38 629.48,25.82 630.94,26.30 632.40,26.83 633.87,27.41 635.34,28.05 636.80,28.73 638.26,29.46 639.73,30.24 641.19,31.08 642.66,31.96 644.12,32.89 645.59,33.87 647.05,34.91 648.52,35.99 649.99,37.12 651.45,38.30 652.91,39.54 654.38,40.82 655.85,42.15 657.31,43.53 658.77,44.97 660.24,46.45 661.70,47.98 663.17,49.56 664.63,51.20 666.10,52.88 667.56,54.61 669.03,56.39 670.50,58.23 671.96,60.11 673.42,62.04 674.89,64.02 676.35,66.06 677.82,68.14 679.28,70.27 680.75,72.45 682.21,74.69 683.68,76.97 685.14,79.30 686.61,81.69 688.08,84.12 689.54,86.60 691.00,89.13 692.47,91.72 693.93,94.35 695.40,97.03 696.87,99.76 698.33,102.55 699.79,105.38 701.26,108.26 702.72,111.19 704.19,114.18 705.65,117.21 707.12,120.29 708.59,123.42 710.05,126.61 711.51,129.84 712.98,133.12 714.44,136.46 715.91,139.84 717.38,143.27 718.84,146.75 720.30,150.29 721.77,153.87 723.23,157.50 724.70,161.18 726.16,164.92 727.63,168.70 729.10,172.53 730.56,176.41 732.02,180.35 733.49,184.33 734.95,188.36 736.42,192.45 737.88,196.58 739.35,200.76 740.81,204.99 742.28,209.28 743.75,213.61 745.21,217.99 746.67,222.42 748.14,226.91 749.61,231.44 751.07,236.02 752.53,240.65 754.00,245.34" fill="none" stroke="#1b6db4" stroke-width="2.00"/>
<polyline points="548.90,161.18 550.37,157.50 551.83,153.87 553.29,150.29 554.76,146.75 556.23,143.27 557.69,139.84 559.15,136.46 560.62,133.12 562.08,129.84 563.55,126.61 565.01,123.42 566.48,120.29 567.94,117.21 569.41,114.18 570.88,111.19 572.34,108.26 573.80,105.38 575.27,102.55 576.74,99.76 578.20,97.03 579.66,94.35 581.13,91.72 582.60,89.13 584.06,86.60 585.52,84.12 586.99,81.69 588.45,79.30 589.92,76.97 591.38,74.69 592.85,72.45 594.31,70.27 595.78,68.14 597.25,66.06 598.71,64.02 600.17,62.04 601.64,60.11 603.11,58.23 604.57,56.39 606.03,54.61 607.50,52.88 608.96,51.20 610.43,49.56 611.89,47.98 613.36,46.45 614.82,44.97 616.29,43.53 617.75,42.15 619.22,40.82 620.68,39.54 622.15,38.30 623.62,37.12 625.08,35.99 626.54,34.91 628.01,33.87 629.48,32.89 630.94,31.96 632.40,31.08 633.87,30.24 635.34,29.46 636.80,28.73 638.26,28.05 639.73,27.41 641.19,26.83 642.66,26.30 644.12,25.82 645.59,25.38 647.05,25.00 648.52,24.67 649.99,24.39 651.45,24.15 652.91,23.97 654.38,23.84 655.85,23.76 657.31,23.72 658.77,23.74 660.24,23.81 661.70,23.93 663.17,24.09 664.63,24.31 666.10,24.58 667.56,24.90 669.03,25.26 670.50,25.68 671.96,26.15 673.42,26.67 674.89,27.23 676.35,27.85 677.82,28.52 679.28,29.24 680.75,30.00 682.21,30.82 683.68,31.69 685.14,32.61 686.61,33.57 688.08,34.59 689.54,35.66 691.00,36.78 692.47,37.94 693.93,39.16 695.40,40.43 696.87,41.75 698.33,43.11 699.79,44.53 701.26,46.00 702.72,47.52 704.19,49.08 705.65,50.70 707.12,52.37 708.59,54.09 710.05,55.85 711.51,57.67 712.98,59.54 714.44,61.46 715.91,63.42 717.38,65.44 718.84,67.51 720.30,69.63 721.77,71.79 723.23,74.01 724.70,76.28 726.16,78.60 727.63,80.97 729.10,83.38 730.56,85.85 732.02,88.37 733.49,90.94 734.95,93.55 736.42,96.22 737.88,98.94 739.35,101.71 740.81,104.52 742.28,107.39 743.75,110.31 745.21,113.28 746.67,116.29 748.14,119.36 749.61,122.48 751.07,125.65 752.53,128.86 754.00,132.13" fill="none" stroke="#0b850b" stroke-width="1.35"/>
<polyline points="680.75,30.00 681.27,30.26 681.80,30.51 682.32,30.76 682.84,31.01 683.37,31.27 683.89,31.52 684.41,31.77 684.94,32.02 685.46,32.28 685.98,32.53 686.51,32.78 687.03,33.04 687.55,33.29 688.08,33.54 688.60,33.79 689.12,34.05 689.64,34.30 690.17,34.55 690.69,34.80 691.21,35.06 691.74,35.31 692.26,35.56 692.78,35.81 693.31,36.07 693.83,36.32 694.35,36.57 694.88,36.83 695.40,37.08 695.92,37.33 696.45,37.58 696.97,37.84 697.49,38.09 698.02,38.34 698.54,38.59 699.06,38.85 699.59,39.10 700.11,39.35 700.63,39.60 701.16,39.86 701.68,40.11 702.20,40.36 702.72,40.62 703.25,40.87 703.77,41.12 704.29,41.37 704.82,41.63 705.34,41.88 705.86,42.13 706.39,42.38 706.91,42.64 707.43,42.89 707.96,43.14 708.48,43.40 709.00,43.65 709.53,43.90 710.05,44.15 710.57,44.41 711.10,44.66 711.62,44.91 712.14,45.16 712.67,45.42 713.19,45.67 713.71,45.92 714.24,46.17 714.76,46.43 715.28,46.68 715.81,46.93 716.33,47.19 716.85,47.44 717.38,47.69 717.90,47.94 718.42,48.20 718.94,48.45 719.47,48.70 719.99,48.95 720.51,49.21 721.04,49.46 721.56,49.71 722.08,49.96 722.61,50.22 723.13,50.47 723.65,50.72 724.18,50.98 724.70,51.23 725.22,51.48 725.75,51.73 726.27,51.99 726.79,52.24 727.32,52.49 727.84,52.74 728.36,53.00 728.89,53.25 729.41,53.50 729.93,53.75 730.46,54.01 730.98,54.26 731.50,54.51 732.02,54.77 732.55,55.02 733.07,55.27 733.59,55.52 734.12,55.78 734.64,56.03 735.16,56.28 735.69,56.53 736.21,56.79 736.73,57.04 737.26,57.29 737.78,57.55 738.30,57.80 738.83,58.05 739.35,58.30 739.87,58.56 740.40,58.81 740.92,59.06 741.44,59.31 741.97,59.57 742.49,59.82 743.01,60.07 743.54,60.32 744.06,60.58 744.58,60.83 745.11,61.08 745.63,61.34 746.15,61.59 746.67,61.84 747.20,62.09 747.72,62.35 748.24,62.60 748.77,62.85 749.29,63.10 749.81,63.36 750.34,63.61 750.86,63.86 751.38,64.11 751.91,64.37 752.43,64.62 752.95,64.87 753.48,65.13 754.00,65.38" fill="none" stroke="#0b850b" stroke-width="1.35" stroke-dasharray="5,2.2"/>
<polyline points="680.75,72.45 681.27,73.21 681.80,73.97 682.32,74.73 682.84,75.49 683.37,76.25 683.89,77.00 684.41,77.76 684.94,78.52 685.46,79.28 685.98,80.04 686.51,80.79 687.03,81.55 687.55,82.31 688.08,83.07 688.60,83.83 689.12,84.58 689.64,85.34 690.17,86.10 690.69,86.86 691.21,87.62 691.74,88.37 692.26,89.13 692.78,89.89 693.31,90.65 693.83,91.41 694.35,92.16 694.88,92.92 695.40,93.68 695.92,94.44 696.45,95.20 696.97,95.95 697.49,96.71 698.02,97.47 698.54,98.23 699.06,98.99 699.59,99.74 700.11,100.50 700.63,101.26 701.16,102.02 701.68,102.78 702.20,103.53 702.72,104.29 703.25,105.05 703.77,105.81 704.29,106.57 704.82,107.32 705.34,108.08 705.86,108.84 706.39,109.60 706.91,110.36 707.43,111.11 707.96,111.87 708.48,112.63 709.00,113.39 709.53,114.15 710.05,114.90 710.57,115.66 711.10,116.42 711.62,117.18 712.14,117.94 712.67,118.70 713.19,119.45 713.71,120.21 714.24,120.97 714.76,121.73 715.28,122.49 715.81,123.24 716.33,124.00 716.85,124.76 717.38,125.52 717.90,126.28 718.42,127.03 718.94,127.79 719.47,128.55 719.99,129.31 720.51,130.07 721.04,130.82 721.56,131.58 722.08,132.34 722.61,133.10 723.13,133.86 723.65,134.61 724.18,135.37 724.70,136.13 725.22,136.89 725.75,137.65 726.27,138.40 726.79,139.16 727.32,139.92 727.84,140.68 728.36,141.44 728.89,142.19 729.41,142.95 729.93,143.71 730.46,144.47 730.98,145.23 731.50,145.98 732.02,146.74 732.55,147.50 733.07,148.26 733.59,149.02 734.12,149.77 734.64,150.53 735.16,151.29 735.69,152.05 736.21,152.81 736.73,153.56 737.26,154.32 737.78,155.08 738.30,155.84 738.83,156.60 739.35,157.35 739.87,158.11 740.40,158.87 740.92,159.63 741.44,160.39 741.97,161.15 742.49,161.90 743.01,162.66 743.54,163.42 744.06,164.18 744.58,164.94 745.11,165.69 745.63,166.45 746.15,167.21 746.67,167.97 747.20,168.73 747.72,169.48 748.24,170.24 748.77,171.00 749.29,171.76 749.81,172.52 750.34,173.27 750.86,174.03 751.38,174.79 751.91,175.55 752.43,176.31 752.95,177.06 753.48,177.82 754.00,178.58" fill="none" stroke="#1e88f0" stroke-width="2.00" stroke-dasharray="5,2.4"/>
</g>
<g transform="translate(638.90,139.25) rotate(-90)">
<path d="M1.7,-6.3L0.1,-2.75L1.7,0.8" stroke="#111" stroke-width="0.75" fill="none"/>
<text x="1.9" y="0" font-size="8.8" font-style="italic" fill="#111" stroke="#111" stroke-width="0.2">n</text>
<text x="7.9" y="1.1" font-size="5.8" fill="#111" stroke="#111" stroke-width="0.15">H</text>
<text x="11.9" y="1.9" font-size="4.2" fill="#111">2</text>
<path d="M15.6,-6.3L17.2,-2.75L15.6,0.8" stroke="#111" stroke-width="0.75" fill="none"/>
</g>
<g transform="translate(682.15,162.75) rotate(-90)">
<text transform="scale(1.15,1)" x="-0.3" y="0" font-size="8.8" font-style="italic" fill="#111" stroke="#111" stroke-width="0.2">n</text>
<text x="5.3" y="2.2" font-size="5.8" fill="#111">H</text>
<text x="9.4" y="2.9" font-size="4.3" fill="#111">2</text>
<text x="11.4" y="2.2" font-size="5.8" fill="#111">,</text>
<text x="13.6" y="2.2" font-size="5.8" fill="#333" stroke="none" textLength="18.5" lengthAdjust="spacingAndGlyphs">thresh</text>
</g>
<path d="M548.90,174.65V4.45H754.00V174.65" fill="none" stroke="#4a4a4a" stroke-width="0.85"/>
<path d="M548.90,174.25v-2.2M548.90,4.45v2.2M578.20,174.25v-2.2M578.20,4.45v2.2M607.50,174.25v-2.2M607.50,4.45v2.2M636.80,174.25v-2.2M636.80,4.45v2.2M666.10,174.25v-2.2M666.10,4.45v2.2M695.40,174.25v-2.2M695.40,4.45v2.2M724.70,174.25v-2.2M724.70,4.45v2.2M754.00,174.25v-2.2M754.00,4.45v2.2M548.90,174.25h3M754.00,174.25h-3M548.90,165.73h1.8M754.00,165.73h-1.8M548.90,160.75h1.8M754.00,160.75h-1.8M548.90,157.21h1.8M754.00,157.21h-1.8M548.90,154.47h1.8M754.00,154.47h-1.8M548.90,152.23h1.8M754.00,152.23h-1.8M548.90,150.33h1.8M754.00,150.33h-1.8M548.90,148.69h1.8M754.00,148.69h-1.8M548.90,147.24h1.8M754.00,147.24h-1.8M548.90,145.95h3M754.00,145.95h-3M548.90,137.43h1.8M754.00,137.43h-1.8M548.90,132.45h1.8M754.00,132.45h-1.8M548.90,128.91h1.8M754.00,128.91h-1.8M548.90,126.17h1.8M754.00,126.17h-1.8M548.90,123.93h1.8M754.00,123.93h-1.8M548.90,122.03h1.8M754.00,122.03h-1.8M548.90,120.39h1.8M754.00,120.39h-1.8M548.90,118.94h1.8M754.00,118.94h-1.8M548.90,117.65h3M754.00,117.65h-3M548.90,109.13h1.8M754.00,109.13h-1.8M548.90,104.15h1.8M754.00,104.15h-1.8M548.90,100.61h1.8M754.00,100.61h-1.8M548.90,97.87h1.8M754.00,97.87h-1.8M548.90,95.63h1.8M754.00,95.63h-1.8M548.90,93.73h1.8M754.00,93.73h-1.8M548.90,92.09h1.8M754.00,92.09h-1.8M548.90,90.64h1.8M754.00,90.64h-1.8M548.90,89.35h3M754.00,89.35h-3M548.90,80.83h1.8M754.00,80.83h-1.8M548.90,75.85h1.8M754.00,75.85h-1.8M548.90,72.31h1.8M754.00,72.31h-1.8M548.90,69.57h1.8M754.00,69.57h-1.8M548.90,67.33h1.8M754.00,67.33h-1.8M548.90,65.43h1.8M754.00,65.43h-1.8M548.90,63.79h1.8M754.00,63.79h-1.8M548.90,62.34h1.8M754.00,62.34h-1.8M548.90,61.05h3M754.00,61.05h-3M548.90,52.53h1.8M754.00,52.53h-1.8M548.90,47.55h1.8M754.00,47.55h-1.8M548.90,44.01h1.8M754.00,44.01h-1.8M548.90,41.27h1.8M754.00,41.27h-1.8M548.90,39.03h1.8M754.00,39.03h-1.8M548.90,37.13h1.8M754.00,37.13h-1.8M548.90,35.49h1.8M754.00,35.49h-1.8M548.90,34.04h1.8M754.00,34.04h-1.8M548.90,32.75h3M754.00,32.75h-3M548.90,24.23h1.8M754.00,24.23h-1.8M548.90,19.25h1.8M754.00,19.25h-1.8M548.90,15.71h1.8M754.00,15.71h-1.8M548.90,12.97h1.8M754.00,12.97h-1.8M548.90,10.73h1.8M754.00,10.73h-1.8M548.90,8.83h1.8M754.00,8.83h-1.8M548.90,7.19h1.8M754.00,7.19h-1.8M548.90,5.74h1.8M754.00,5.74h-1.8M548.90,4.45h3M754.00,4.45h-3" stroke="#333" stroke-width="0.7" fill="none"/>
<rect x="550.20" y="143.05" width="66.4" height="29.5" rx="2" fill="#fff" fill-opacity="0.8" stroke="#d8d8d8" stroke-width="0.6"/>
<path d="M552.00,148.15h14.5" stroke="#1b6db4" stroke-width="2"/>
<path d="M552.00,157.35h14.5" stroke="#0b850b" stroke-width="1.35"/>
<path d="M552.50,166.85h14.5" stroke="#1e88f0" stroke-width="2" stroke-dasharray="6.9,2.6"/>
<text x="571.10" y="150.35" font-size="7.0" textLength="33" lengthAdjust="spacingAndGlyphs">by volume</text>
<text x="571.10" y="159.85" font-size="7.0" textLength="26.5" lengthAdjust="spacingAndGlyphs">by mass</text>
<text x="571.10" y="169.45" font-size="7.0" textLength="42.3" lengthAdjust="spacingAndGlyphs">powerlaw tail</text>
<text x="548.90" y="182.65" font-size="9.2" text-anchor="middle">1</text>
<text x="578.20" y="182.65" font-size="9.2" text-anchor="middle" textLength="10" lengthAdjust="spacingAndGlyphs">10</text>
<text x="600.10" y="182.65" font-size="9.2" textLength="10" lengthAdjust="spacingAndGlyphs">10</text>
<text x="611.00" y="179.65" font-size="6.7">2</text>
<text x="629.40" y="182.65" font-size="9.2" textLength="10" lengthAdjust="spacingAndGlyphs">10</text>
<text x="640.30" y="179.65" font-size="6.7">3</text>
<text x="658.70" y="182.65" font-size="9.2" textLength="10" lengthAdjust="spacingAndGlyphs">10</text>
<text x="669.60" y="179.65" font-size="6.7">4</text>
<text x="688.00" y="182.65" font-size="9.2" textLength="10" lengthAdjust="spacingAndGlyphs">10</text>
<text x="698.90" y="179.65" font-size="6.7">5</text>
<text x="717.30" y="182.65" font-size="9.2" textLength="10" lengthAdjust="spacingAndGlyphs">10</text>
<text x="728.20" y="179.65" font-size="6.7">6</text>
<text x="746.60" y="182.65" font-size="9.2" textLength="10" lengthAdjust="spacingAndGlyphs">10</text>
<text x="757.50" y="179.65" font-size="6.7">7</text>
<text x="527.60" y="177.95" font-size="9.2" textLength="10" lengthAdjust="spacingAndGlyphs">10</text>
<path d="M538.70,172.85h3.4" stroke="#000" stroke-width="0.7"/>
<text x="542.50" y="174.75" font-size="6.6">2</text>
<text x="527.60" y="149.65" font-size="9.2" textLength="10" lengthAdjust="spacingAndGlyphs">10</text>
<path d="M538.70,144.55h3.4" stroke="#000" stroke-width="0.7"/>
<text x="542.50" y="146.45" font-size="6.6">1</text>
<text x="547.00" y="121.05" font-size="9.2" text-anchor="end">1</text>
<text x="546.90" y="92.75" font-size="9.2" text-anchor="end" textLength="10" lengthAdjust="spacingAndGlyphs">10</text>
<text x="532.30" y="64.15" font-size="9.2" textLength="10" lengthAdjust="spacingAndGlyphs">10</text>
<text x="542.80" y="61.15" font-size="6.7">2</text>
<text x="532.30" y="35.85" font-size="9.2" textLength="10" lengthAdjust="spacingAndGlyphs">10</text>
<text x="542.80" y="32.85" font-size="6.7">3</text>
<text x="532.30" y="7.55" font-size="9.2" textLength="10" lengthAdjust="spacingAndGlyphs">10</text>
<text x="542.80" y="4.55" font-size="6.7">4</text>
<text x="623.50" y="195.55" font-size="10" font-style="italic">n</text>
<text x="630.20" y="197.55" font-size="6.8">H</text>
<text x="635.30" y="198.65" font-size="4.8">2</text>
<text x="640.60" y="195.55" font-size="10">/</text>
<text x="644.90" y="195.55" font-size="10">[</text>
<text x="648.70" y="195.55" font-size="10" textLength="15.4" lengthAdjust="spacingAndGlyphs">cm</text>
<path d="M664.70,190.05h4.9" stroke="#000" stroke-width="0.75"/>
<text x="669.80" y="192.55" font-size="6.9">3</text>
<text x="675.50" y="195.55" font-size="10">]</text>
<g transform="translate(519.60,156.05) rotate(-90)">
<text transform="translate(0.70,0.00) scale(1.197,1)" x="-0.44" y="0" font-size="10.40">d</text>
<text transform="translate(10.20,0.00) scale(0.987,1)" x="-0.32" y="0" font-size="10.40" font-style="italic">N</text>
<text transform="translate(20.20,0.00) scale(1.246,1)" x="-0.00" y="0" font-size="10.40">/</text>
<text transform="translate(27.20,0.00) scale(1.197,1)" x="-0.44" y="0" font-size="10.40">d</text>
<text transform="translate(35.70,0.00) scale(1.207,1)" x="-0.70" y="0" font-size="10.40">log</text>
<text transform="translate(53.45,2.60) scale(1.098,1)" x="-0.56" y="0" font-size="7.40">10</text>
<text transform="translate(64.70,0.00) scale(0.800,1)" x="-0.64" y="0" font-size="10.40">(</text>
<text transform="translate(67.70,0.00) scale(1.187,1)" x="-0.17" y="0" font-size="10.40" font-style="italic">n</text>
<text transform="translate(75.40,2.60) scale(1.094,1)" x="-0.59" y="0" font-size="7.20">H</text>
<text transform="translate(80.80,3.80) scale(0.971,1)" x="-0.26" y="0" font-size="5.20">2</text>
<text transform="translate(85.20,0.00) scale(0.800,1)" x="-0.06" y="0" font-size="10.40">)</text>
<text transform="translate(93.40,0.00) scale(0.919,1)" x="-0.74" y="0" font-size="10.40">[</text>
<text transform="translate(97.10,0.00) scale(1.171,1)" x="-0.44" y="0" font-size="10.40">dex</text>
<text transform="translate(124.80,-3.90) scale(0.846,1)" x="-0.56" y="0" font-size="7.40">1</text>
<text transform="translate(130.50,0.00) scale(0.919,1)" x="-0.08" y="0" font-size="10.40">]</text>
<path d="M118.8,-6.4h4.3" stroke="#000" stroke-width="0.8"/>
</g>
<g class="t">
<text transform="translate(553.25,18.10) scale(1.059,1)" x="-0.98" y="0" font-size="14.50">l</text>
<text transform="translate(557.10,18.10) scale(1.027,1)" x="-0.61" y="0" font-size="14.50">g</text>
<path d="M572.00,7.50L569.00,13.10L572.00,18.90" stroke="#000" stroke-width="1.1" fill="none"/>
<text transform="translate(573.00,18.10) scale(0.879,1)" x="-0.24" y="0" font-size="14.50" font-style="italic">n</text>
<text transform="translate(581.40,19.20) scale(1.108,1)" x="-0.69" y="0" font-size="8.40">H</text>
<text transform="translate(587.30,20.90) scale(1.204,1)" x="-0.31" y="0" font-size="6.20">2</text>
<path d="M594.00,7.50L597.00,13.10L594.00,18.90" stroke="#000" stroke-width="1.1" fill="none"/>
<text transform="translate(601.60,17.80) scale(1.022,1)" x="-0.71" y="0" font-size="14.50">=</text>
<text transform="translate(614.10,18.10) scale(0.949,1)" x="-0.57" y="0" font-size="15.00">3.0</text>
</g>
<clipPath id="c3"><rect x="38.40" y="205.60" width="205.10" height="170.30"/></clipPath>
<path d="M38.00,375.40H243.90" stroke="#4a4a4a" stroke-width="0.85"/>
<g clip-path="url(#c3)">
<line x1="67.70" y1="205.60" x2="67.70" y2="375.40" stroke="#eeeeee" stroke-width="0.8"/>
<line x1="97.00" y1="205.60" x2="97.00" y2="375.40" stroke="#eeeeee" stroke-width="0.8"/>
<line x1="126.30" y1="205.60" x2="126.30" y2="375.40" stroke="#eeeeee" stroke-width="0.8"/>
<line x1="155.60" y1="205.60" x2="155.60" y2="375.40" stroke="#eeeeee" stroke-width="0.8"/>
<line x1="184.90" y1="205.60" x2="184.90" y2="375.40" stroke="#eeeeee" stroke-width="0.8"/>
<line x1="214.20" y1="205.60" x2="214.20" y2="375.40" stroke="#eeeeee" stroke-width="0.8"/>
<line x1="38.40" y1="347.10" x2="243.50" y2="347.10" stroke="#eeeeee" stroke-width="0.8"/>
<line x1="38.40" y1="318.80" x2="243.50" y2="318.80" stroke="#eeeeee" stroke-width="0.8"/>
<line x1="38.40" y1="290.50" x2="243.50" y2="290.50" stroke="#eeeeee" stroke-width="0.8"/>
<line x1="38.40" y1="262.20" x2="243.50" y2="262.20" stroke="#eeeeee" stroke-width="0.8"/>
<line x1="38.40" y1="233.90" x2="243.50" y2="233.90" stroke="#eeeeee" stroke-width="0.8"/>
<path d="M38.4,377.4V304.7H39.0V303.6H39.6V302.5H40.2V301.4H40.7V300.3H41.3V299.2H41.9V298.2H42.5V297.1H43.1V296.0H43.7V295.0H44.3V294.0H44.9V292.9H45.4V291.9H46.0V290.9H46.6V289.9H47.2V288.9H47.8V287.9H48.4V286.9H49.0V285.9H49.6V285.0H50.1V284.0H50.7V283.1H51.3V282.1H51.9V281.2H52.5V280.3H53.1V279.3H53.7V278.4H54.2V277.5H54.8V276.6H55.4V275.7H56.0V274.9H56.6V274.0H57.2V273.1H57.8V272.3H58.4V271.4H58.9V270.6H59.5V269.8H60.1V268.9H60.7V268.1H61.3V267.3H61.9V266.5H62.5V265.7H63.1V265.0H63.6V264.2H64.2V263.4H64.8V262.7H65.4V261.9H66.0V261.2H66.6V260.4H67.2V259.7H67.8V259.0H68.3V258.3H68.9V257.6H69.5V256.9H70.1V256.2H70.7V255.5H71.3V254.9H71.9V254.2H72.4V253.5H73.0V252.9H73.6V252.3H74.2V251.6H74.8V251.0H75.4V250.4H76.0V249.8H76.6V249.2H77.1V248.6H77.7V248.0H78.3V247.4H78.9V246.9H79.5V246.3H80.1V245.8H80.7V245.2H81.3V244.7H81.8V244.2H82.4V243.7H83.0V243.2H83.6V242.7H84.2V242.2H84.8V241.7H85.4V241.2H85.9V240.7H86.5V240.3H87.1V239.8H87.7V239.4H88.3V238.9H88.9V238.5H89.5V238.1H90.1V237.7H90.6V237.3H91.2V236.9H91.8V236.5H92.4V236.1H93.0V235.7H93.6V235.4H94.2V235.0H94.8V234.7H95.3V234.3H95.9V234.0H96.5V233.7H97.1V233.3H97.7V233.0H98.3V232.7H98.9V232.4H99.4V232.2H100.0V231.9H100.6V231.6H101.2V231.4H101.8V231.1H102.4V230.9H103.0V230.6H103.6V230.4H104.1V230.2H104.7V230.0H105.3V229.8H105.9V229.6H106.5V229.4H107.1V229.2H107.7V229.0H108.3V228.9H108.8V228.7H109.4V228.6H110.0V228.4H110.6V228.3H111.2V228.2H111.8V228.1H112.4V227.9H112.9V227.8H113.5V227.8H114.1V227.7H114.7V227.6H115.3V227.5H115.9V227.5H116.5V227.4H117.1V227.4H117.6V227.3H118.2V227.3H118.8V227.3H119.4V227.3H120.0V227.3H120.6V227.3H121.2V227.3H121.8V227.3H122.3V227.3H122.9V227.4H123.5V227.4H124.1V227.5H124.7V227.5H125.3V227.6H125.9V227.7H126.5V227.8H127.0V227.9H127.6V228.0H128.2V228.1H128.8V228.2H129.4V228.3H130.0V228.5H130.6V228.6H131.1V228.7H131.7V228.9H132.3V229.1H132.9V229.2H133.5V229.4H134.1V229.6H134.7V229.8H135.3V230.0H135.8V230.2H136.4V230.5H137.0V230.7H137.6V230.9H138.2V231.2H138.8V231.4H139.4V231.7H140.0V231.9H140.5V232.2H141.1V232.5H141.7V232.8H142.3V233.1H142.9V233.4H143.5V233.7H144.1V234.1H144.6V234.4H145.2V234.7H145.8V235.1H146.4V235.4H147.0V235.8H147.6V236.2H148.2V236.6H148.8V237.0H149.3V237.4H149.9V237.8H150.5V238.2H151.1V238.6H151.7V239.0H152.3V239.5H152.9V239.9H153.5V240.4H154.0V240.8H154.6V241.3H155.2V241.8H155.8V242.3H156.4V242.8H157.0V243.3H157.6V243.8H158.1V244.3H158.7V244.8H159.3V245.4H159.9V245.9H160.5V246.5H161.1V247.0H161.7V247.6H162.3V248.2H162.8V248.7H163.4V249.3H164.0V249.9H164.6V250.5H165.2V251.1H165.8V251.8H166.4V252.4H167.0V253.0H167.5V253.7H168.1V254.3H168.7V255.0H169.3V255.7H169.9V256.4H170.5V257.0H171.1V257.7H171.6V258.4H172.2V259.2H172.8V259.9H173.4V260.6H174.0V261.3H174.6V262.1H175.2V262.8H175.8V263.6H176.3V264.4H176.9V265.1H177.5V265.9H178.1V266.7H178.7V267.5H179.3V268.3H179.9V269.1H180.5V270.0H181.0V270.8H181.6V271.6H182.2V272.5H182.8V273.3H183.4V274.2H184.0V275.1H184.6V275.9H185.2V276.8H185.7V277.7H186.3V278.6H186.9V279.5H187.5V280.5H188.1V281.4H188.7V282.3H189.3V283.3H189.8V284.2H190.4V285.2H191.0V286.2H191.6V287.1H192.2V288.1H192.8V289.1H193.4V290.1H194.0V291.1H194.5V292.1H195.1V293.2H195.7V294.2H196.3V295.2H196.9V296.3H197.5V297.3H198.1V298.4H198.7V299.5H199.2V300.6H199.8V301.6H200.4V302.7H201.0V303.8H201.6V305.0H202.2V306.1H202.8V307.2H203.3V308.3H203.9V309.5H204.5V310.6H205.1V311.8H205.7V313.0H206.3V314.1H206.9V315.3H207.5V316.5H208.0V317.7H208.6V318.9H209.2V320.2H209.8V322.5H211.6V322.5H213.3V335.2H215.1V337.2H215.7V377.4Z" fill="#1f77b4" fill-opacity="0.20"/>
<path d="M171.1,377.4V256.5H171.7V257.2H172.3V258.0H172.9V258.7H173.5V259.4H174.1V260.1H174.6V260.9H175.2V261.6H175.8V262.4H176.4V263.2H177.0V263.9H177.6V264.7H178.2V265.5H178.7V266.3H179.3V267.1H179.9V267.9H180.5V268.8H181.1V269.6H181.7V270.2H182.0V268.6H184.0V274.3H186.1V277.1H188.1V281.0H190.2V284.0H192.2V286.1H194.3V289.5H196.3V291.4H198.4V294.2H200.4V297.0H202.5V301.5H204.5V302.5H206.6V306.9H208.3V311.2H210.1V305.0H211.9V308.7H213.6V313.6H215.4V318.9H217.1V322.2H218.9V328.8H220.6V331.4H222.4V326.4H224.2V331.6H225.9V327.9H227.7V333.1H229.4V341.7H231.2V340.4H233.0V340.2H234.7V343.6H236.5V349.9H238.2V350.0H240.0V353.8H241.7V355.4H243.5V377.4Z" fill="#1e90ff" fill-opacity="0.48"/>
<rect x="138.02" y="205.60" width="5.86" height="169.80" fill="#1f77b4" fill-opacity="0.2"/>
<rect x="167.32" y="205.60" width="5.86" height="169.80" fill="#3c9cff" fill-opacity="0.26"/>
<polyline points="38.40,302.86 39.87,300.09 41.33,297.37 42.80,294.70 44.26,292.09 45.72,289.52 47.19,287.00 48.66,284.53 50.12,282.12 51.59,279.75 53.05,277.43 54.52,275.16 55.98,272.94 57.45,270.78 58.91,268.66 60.38,266.59 61.84,264.57 63.30,262.61 64.77,260.69 66.23,258.82 67.70,257.00 69.16,255.24 70.63,253.52 72.09,251.85 73.56,250.23 75.03,248.67 76.49,247.15 77.95,245.68 79.42,244.26 80.88,242.90 82.35,241.58 83.81,240.31 85.28,239.09 86.75,237.93 88.21,236.81 89.67,235.74 91.14,234.72 92.60,233.76 94.07,232.84 95.53,231.97 97.00,231.15 98.46,230.39 99.93,229.67 101.39,229.00 102.86,228.38 104.32,227.82 105.79,227.30 107.25,226.83 108.72,226.41 110.19,226.05 111.65,225.73 113.11,225.46 114.58,225.24 116.04,225.08 117.51,224.96 118.97,224.89 120.44,224.87 121.91,224.91 123.37,224.99 124.84,225.12 126.30,225.30 127.76,225.54 129.23,225.82 130.69,226.15 132.16,226.53 133.62,226.97 135.09,227.45 136.56,227.98 138.02,228.56 139.49,229.20 140.95,229.88 142.41,230.61 143.88,231.39 145.34,232.23 146.81,233.11 148.28,234.04 149.74,235.02 151.21,236.06 152.67,237.14 154.13,238.27 155.60,239.45 157.06,240.69 158.53,241.97 160.00,243.30 161.46,244.68 162.92,246.12 164.39,247.60 165.85,249.13 167.32,250.71 168.79,252.35 170.25,254.03 171.72,255.76 173.18,257.54 174.65,259.38 176.11,261.26 177.58,263.19 179.04,265.17 180.50,267.21 181.97,269.29 183.44,271.42 184.90,273.60 186.37,275.84 187.83,278.12 189.30,280.45 190.76,282.84 192.22,285.27 193.69,287.75 195.16,290.28 196.62,292.87 198.09,295.50 199.55,298.18 201.01,300.91 202.48,303.70 203.94,306.53 205.41,309.41 206.88,312.34 208.34,315.33 209.80,318.36 211.27,321.44 212.73,324.57 214.20,327.76 215.66,330.99 217.13,334.27 218.60,337.61 220.06,340.99 221.53,344.42 222.99,347.90 224.46,351.44 225.92,355.02 227.39,358.65 228.85,362.33 230.31,366.07 231.78,369.85 233.25,373.68 234.71,377.56 236.18,381.50 237.64,385.48 239.10,389.51 240.57,393.60 242.03,397.73 243.50,401.91" fill="none" stroke="#1b6db4" stroke-width="2.00"/>
<polyline points="38.40,401.91 39.87,397.73 41.33,393.60 42.80,389.51 44.26,385.48 45.72,381.50 47.19,377.56 48.66,373.68 50.12,369.85 51.59,366.07 53.05,362.33 54.52,358.65 55.98,355.02 57.45,351.44 58.91,347.90 60.38,344.42 61.84,340.99 63.30,337.61 64.77,334.27 66.23,330.99 67.70,327.76 69.16,324.57 70.63,321.44 72.09,318.36 73.56,315.33 75.03,312.34 76.49,309.41 77.95,306.53 79.42,303.70 80.88,300.91 82.35,298.18 83.81,295.50 85.28,292.87 86.75,290.28 88.21,287.75 89.67,285.27 91.14,282.84 92.60,280.45 94.07,278.12 95.53,275.84 97.00,273.60 98.46,271.42 99.93,269.29 101.39,267.21 102.86,265.17 104.32,263.19 105.79,261.26 107.25,259.38 108.72,257.54 110.19,255.76 111.65,254.03 113.11,252.35 114.58,250.71 116.04,249.13 117.51,247.60 118.97,246.12 120.44,244.68 121.91,243.30 123.37,241.97 124.84,240.69 126.30,239.45 127.76,238.27 129.23,237.14 130.69,236.06 132.16,235.02 133.62,234.04 135.09,233.11 136.56,232.23 138.02,231.39 139.49,230.61 140.95,229.88 142.41,229.20 143.88,228.56 145.34,227.98 146.81,227.45 148.28,226.97 149.74,226.53 151.21,226.15 152.67,225.82 154.13,225.54 155.60,225.30 157.06,225.12 158.53,224.99 160.00,224.91 161.46,224.87 162.92,224.89 164.39,224.96 165.85,225.08 167.32,225.24 168.79,225.46 170.25,225.73 171.72,226.05 173.18,226.41 174.65,226.83 176.11,227.30 177.58,227.82 179.04,228.38 180.50,229.00 181.97,229.67 183.44,230.39 184.90,231.15 186.37,231.97 187.83,232.84 189.30,233.76 190.76,234.72 192.22,235.74 193.69,236.81 195.16,237.93 196.62,239.09 198.09,240.31 199.55,241.58 201.01,242.90 202.48,244.26 203.94,245.68 205.41,247.15 206.88,248.67 208.34,250.23 209.80,251.85 211.27,253.52 212.73,255.24 214.20,257.00 215.66,258.82 217.13,260.69 218.60,262.61 220.06,264.57 221.53,266.59 222.99,268.66 224.46,270.78 225.92,272.94 227.39,275.16 228.85,277.43 230.31,279.75 231.78,282.12 233.25,284.53 234.71,287.00 236.18,289.52 237.64,292.09 239.10,294.70 240.57,297.37 242.03,300.09 243.50,302.86" fill="none" stroke="#0b850b" stroke-width="1.35"/>
<polyline points="170.25,225.73 170.77,225.98 171.30,226.23 171.82,226.49 172.34,226.74 172.87,226.99 173.39,227.24 173.91,227.50 174.44,227.75 174.96,228.00 175.48,228.25 176.01,228.51 176.53,228.76 177.05,229.01 177.58,229.27 178.10,229.52 178.62,229.77 179.14,230.02 179.67,230.28 180.19,230.53 180.71,230.78 181.24,231.03 181.76,231.29 182.28,231.54 182.81,231.79 183.33,232.04 183.85,232.30 184.38,232.55 184.90,232.80 185.42,233.06 185.95,233.31 186.47,233.56 186.99,233.81 187.52,234.07 188.04,234.32 188.56,234.57 189.09,234.82 189.61,235.08 190.13,235.33 190.66,235.58 191.18,235.84 191.70,236.09 192.22,236.34 192.75,236.59 193.27,236.85 193.79,237.10 194.32,237.35 194.84,237.60 195.36,237.86 195.89,238.11 196.41,238.36 196.93,238.61 197.46,238.87 197.98,239.12 198.50,239.37 199.03,239.63 199.55,239.88 200.07,240.13 200.60,240.38 201.12,240.64 201.64,240.89 202.17,241.14 202.69,241.39 203.21,241.65 203.74,241.90 204.26,242.15 204.78,242.40 205.31,242.66 205.83,242.91 206.35,243.16 206.88,243.42 207.40,243.67 207.92,243.92 208.44,244.17 208.97,244.43 209.49,244.68 210.01,244.93 210.54,245.18 211.06,245.44 211.58,245.69 212.11,245.94 212.63,246.19 213.15,246.45 213.68,246.70 214.20,246.95 214.72,247.21 215.25,247.46 215.77,247.71 216.29,247.96 216.82,248.22 217.34,248.47 217.86,248.72 218.39,248.97 218.91,249.23 219.43,249.48 219.96,249.73 220.48,249.99 221.00,250.24 221.53,250.49 222.05,250.74 222.57,251.00 223.09,251.25 223.62,251.50 224.14,251.75 224.66,252.01 225.19,252.26 225.71,252.51 226.23,252.76 226.76,253.02 227.28,253.27 227.80,253.52 228.33,253.78 228.85,254.03 229.37,254.28 229.90,254.53 230.42,254.79 230.94,255.04 231.47,255.29 231.99,255.54 232.51,255.80 233.04,256.05 233.56,256.30 234.08,256.55 234.61,256.81 235.13,257.06 235.65,257.31 236.18,257.57 236.70,257.82 237.22,258.07 237.74,258.32 238.27,258.58 238.79,258.83 239.31,259.08 239.84,259.33 240.36,259.59 240.88,259.84 241.41,260.09 241.93,260.34 242.45,260.60 242.98,260.85 243.50,261.10" fill="none" stroke="#0b850b" stroke-width="1.35" stroke-dasharray="5,2.2"/>
<polyline points="170.25,254.03 170.77,254.79 171.30,255.55 171.82,256.30 172.34,257.06 172.87,257.82 173.39,258.58 173.91,259.34 174.44,260.09 174.96,260.85 175.48,261.61 176.01,262.37 176.53,263.13 177.05,263.88 177.58,264.64 178.10,265.40 178.62,266.16 179.14,266.92 179.67,267.67 180.19,268.43 180.71,269.19 181.24,269.95 181.76,270.71 182.28,271.46 182.81,272.22 183.33,272.98 183.85,273.74 184.38,274.50 184.90,275.25 185.42,276.01 185.95,276.77 186.47,277.53 186.99,278.29 187.52,279.04 188.04,279.80 188.56,280.56 189.09,281.32 189.61,282.08 190.13,282.83 190.66,283.59 191.18,284.35 191.70,285.11 192.22,285.87 192.75,286.62 193.27,287.38 193.79,288.14 194.32,288.90 194.84,289.66 195.36,290.41 195.89,291.17 196.41,291.93 196.93,292.69 197.46,293.45 197.98,294.21 198.50,294.96 199.03,295.72 199.55,296.48 200.07,297.24 200.60,298.00 201.12,298.75 201.64,299.51 202.17,300.27 202.69,301.03 203.21,301.79 203.74,302.54 204.26,303.30 204.78,304.06 205.31,304.82 205.83,305.58 206.35,306.33 206.88,307.09 207.40,307.85 207.92,308.61 208.44,309.37 208.97,310.12 209.49,310.88 210.01,311.64 210.54,312.40 211.06,313.16 211.58,313.91 212.11,314.67 212.63,315.43 213.15,316.19 213.68,316.95 214.20,317.70 214.72,318.46 215.25,319.22 215.77,319.98 216.29,320.74 216.82,321.49 217.34,322.25 217.86,323.01 218.39,323.77 218.91,324.53 219.43,325.28 219.96,326.04 220.48,326.80 221.00,327.56 221.53,328.32 222.05,329.07 222.57,329.83 223.09,330.59 223.62,331.35 224.14,332.11 224.66,332.86 225.19,333.62 225.71,334.38 226.23,335.14 226.76,335.90 227.28,336.66 227.80,337.41 228.33,338.17 228.85,338.93 229.37,339.69 229.90,340.45 230.42,341.20 230.94,341.96 231.47,342.72 231.99,343.48 232.51,344.24 233.04,344.99 233.56,345.75 234.08,346.51 234.61,347.27 235.13,348.03 235.65,348.78 236.18,349.54 236.70,350.30 237.22,351.06 237.74,351.82 238.27,352.57 238.79,353.33 239.31,354.09 239.84,354.85 240.36,355.61 240.88,356.36 241.41,357.12 241.93,357.88 242.45,358.64 242.98,359.40 243.50,360.15" fill="none" stroke="#1e88f0" stroke-width="2.00" stroke-dasharray="5,2.4"/>
</g>
<g transform="translate(143.05,340.40) rotate(-90)">
<path d="M1.7,-6.3L0.1,-2.75L1.7,0.8" stroke="#111" stroke-width="0.75" fill="none"/>
<text x="1.9" y="0" font-size="8.8" font-style="italic" fill="#111" stroke="#111" stroke-width="0.2">n</text>
<text x="7.9" y="1.1" font-size="5.8" fill="#111" stroke="#111" stroke-width="0.15">H</text>
<text x="11.9" y="1.9" font-size="4.2" fill="#111">2</text>
<path d="M15.6,-6.3L17.2,-2.75L15.6,0.8" stroke="#111" stroke-width="0.75" fill="none"/>
</g>
<g transform="translate(171.65,363.90) rotate(-90)">
<text transform="scale(1.15,1)" x="-0.3" y="0" font-size="8.8" font-style="italic" fill="#111" stroke="#111" stroke-width="0.2">n</text>
<text x="5.3" y="2.2" font-size="5.8" fill="#111">H</text>
<text x="9.4" y="2.9" font-size="4.3" fill="#111">2</text>
<text x="11.4" y="2.2" font-size="5.8" fill="#111">,</text>
<text x="13.6" y="2.2" font-size="5.8" fill="#333" stroke="none" textLength="18.5" lengthAdjust="spacingAndGlyphs">thresh</text>
</g>
<path d="M38.40,375.80V205.60H243.50V375.80" fill="none" stroke="#4a4a4a" stroke-width="0.85"/>
<path d="M38.40,375.40v-2.2M38.40,205.60v2.2M67.70,375.40v-2.2M67.70,205.60v2.2M97.00,375.40v-2.2M97.00,205.60v2.2M126.30,375.40v-2.2M126.30,205.60v2.2M155.60,375.40v-2.2M155.60,205.60v2.2M184.90,375.40v-2.2M184.90,205.60v2.2M214.20,375.40v-2.2M214.20,205.60v2.2M243.50,375.40v-2.2M243.50,205.60v2.2M38.40,375.40h3M243.50,375.40h-3M38.40,366.88h1.8M243.50,366.88h-1.8M38.40,361.90h1.8M243.50,361.90h-1.8M38.40,358.36h1.8M243.50,358.36h-1.8M38.40,355.62h1.8M243.50,355.62h-1.8M38.40,353.38h1.8M243.50,353.38h-1.8M38.40,351.48h1.8M243.50,351.48h-1.8M38.40,349.84h1.8M243.50,349.84h-1.8M38.40,348.39h1.8M243.50,348.39h-1.8M38.40,347.10h3M243.50,347.10h-3M38.40,338.58h1.8M243.50,338.58h-1.8M38.40,333.60h1.8M243.50,333.60h-1.8M38.40,330.06h1.8M243.50,330.06h-1.8M38.40,327.32h1.8M243.50,327.32h-1.8M38.40,325.08h1.8M243.50,325.08h-1.8M38.40,323.18h1.8M243.50,323.18h-1.8M38.40,321.54h1.8M243.50,321.54h-1.8M38.40,320.09h1.8M243.50,320.09h-1.8M38.40,318.80h3M243.50,318.80h-3M38.40,310.28h1.8M243.50,310.28h-1.8M38.40,305.30h1.8M243.50,305.30h-1.8M38.40,301.76h1.8M243.50,301.76h-1.8M38.40,299.02h1.8M243.50,299.02h-1.8M38.40,296.78h1.8M243.50,296.78h-1.8M38.40,294.88h1.8M243.50,294.88h-1.8M38.40,293.24h1.8M243.50,293.24h-1.8M38.40,291.79h1.8M243.50,291.79h-1.8M38.40,290.50h3M243.50,290.50h-3M38.40,281.98h1.8M243.50,281.98h-1.8M38.40,277.00h1.8M243.50,277.00h-1.8M38.40,273.46h1.8M243.50,273.46h-1.8M38.40,270.72h1.8M243.50,270.72h-1.8M38.40,268.48h1.8M243.50,268.48h-1.8M38.40,266.58h1.8M243.50,266.58h-1.8M38.40,264.94h1.8M243.50,264.94h-1.8M38.40,263.49h1.8M243.50,263.49h-1.8M38.40,262.20h3M243.50,262.20h-3M38.40,253.68h1.8M243.50,253.68h-1.8M38.40,248.70h1.8M243.50,248.70h-1.8M38.40,245.16h1.8M243.50,245.16h-1.8M38.40,242.42h1.8M243.50,242.42h-1.8M38.40,240.18h1.8M243.50,240.18h-1.8M38.40,238.28h1.8M243.50,238.28h-1.8M38.40,236.64h1.8M243.50,236.64h-1.8M38.40,235.19h1.8M243.50,235.19h-1.8M38.40,233.90h3M243.50,233.90h-3M38.40,225.38h1.8M243.50,225.38h-1.8M38.40,220.40h1.8M243.50,220.40h-1.8M38.40,216.86h1.8M243.50,216.86h-1.8M38.40,214.12h1.8M243.50,214.12h-1.8M38.40,211.88h1.8M243.50,211.88h-1.8M38.40,209.98h1.8M243.50,209.98h-1.8M38.40,208.34h1.8M243.50,208.34h-1.8M38.40,206.89h1.8M243.50,206.89h-1.8M38.40,205.60h3M243.50,205.60h-3" stroke="#333" stroke-width="0.7" fill="none"/>
<rect x="39.70" y="344.20" width="66.4" height="29.5" rx="2" fill="#fff" fill-opacity="0.8" stroke="#d8d8d8" stroke-width="0.6"/>
<path d="M41.50,349.30h14.5" stroke="#1b6db4" stroke-width="2"/>
<path d="M41.50,358.50h14.5" stroke="#0b850b" stroke-width="1.35"/>
<path d="M42.00,368.00h14.5" stroke="#1e88f0" stroke-width="2" stroke-dasharray="6.9,2.6"/>
<text x="60.60" y="351.50" font-size="7.0" textLength="33" lengthAdjust="spacingAndGlyphs">by volume</text>
<text x="60.60" y="361.00" font-size="7.0" textLength="26.5" lengthAdjust="spacingAndGlyphs">by mass</text>
<text x="60.60" y="370.60" font-size="7.0" textLength="42.3" lengthAdjust="spacingAndGlyphs">powerlaw tail</text>
<text x="38.40" y="383.80" font-size="9.2" text-anchor="middle">1</text>
<text x="67.70" y="383.80" font-size="9.2" text-anchor="middle" textLength="10" lengthAdjust="spacingAndGlyphs">10</text>
<text x="89.60" y="383.80" font-size="9.2" textLength="10" lengthAdjust="spacingAndGlyphs">10</text>
<text x="100.50" y="380.80" font-size="6.7">2</text>
<text x="118.90" y="383.80" font-size="9.2" textLength="10" lengthAdjust="spacingAndGlyphs">10</text>
<text x="129.80" y="380.80" font-size="6.7">3</text>
<text x="148.20" y="383.80" font-size="9.2" textLength="10" lengthAdjust="spacingAndGlyphs">10</text>
<text x="159.10" y="380.80" font-size="6.7">4</text>
<text x="177.50" y="383.80" font-size="9.2" textLength="10" lengthAdjust="spacingAndGlyphs">10</text>
<text x="188.40" y="380.80" font-size="6.7">5</text>
<text x="206.80" y="383.80" font-size="9.2" textLength="10" lengthAdjust="spacingAndGlyphs">10</text>
<text x="217.70" y="380.80" font-size="6.7">6</text>
<text x="236.10" y="383.80" font-size="9.2" textLength="10" lengthAdjust="spacingAndGlyphs">10</text>
<text x="247.00" y="380.80" font-size="6.7">7</text>
<text x="17.10" y="379.10" font-size="9.2" textLength="10" lengthAdjust="spacingAndGlyphs">10</text>
<path d="M28.20,374.00h3.4" stroke="#000" stroke-width="0.7"/>
<text x="32.00" y="375.90" font-size="6.6">2</text>
<text x="17.10" y="350.80" font-size="9.2" textLength="10" lengthAdjust="spacingAndGlyphs">10</text>
<path d="M28.20,345.70h3.4" stroke="#000" stroke-width="0.7"/>
<text x="32.00" y="347.60" font-size="6.6">1</text>
<text x="36.50" y="322.20" font-size="9.2" text-anchor="end">1</text>
<text x="36.40" y="293.90" font-size="9.2" text-anchor="end" textLength="10" lengthAdjust="spacingAndGlyphs">10</text>
<text x="21.80" y="265.30" font-size="9.2" textLength="10" lengthAdjust="spacingAndGlyphs">10</text>
<text x="32.30" y="262.30" font-size="6.7">2</text>
<text x="21.80" y="237.00" font-size="9.2" textLength="10" lengthAdjust="spacingAndGlyphs">10</text>
<text x="32.30" y="234.00" font-size="6.7">3</text>
<text x="21.80" y="208.70" font-size="9.2" textLength="10" lengthAdjust="spacingAndGlyphs">10</text>
<text x="32.30" y="205.70" font-size="6.7">4</text>
<text x="113.00" y="396.70" font-size="10" font-style="italic">n</text>
<text x="119.70" y="398.70" font-size="6.8">H</text>
<text x="124.80" y="399.80" font-size="4.8">2</text>
<text x="130.10" y="396.70" font-size="10">/</text>
<text x="134.40" y="396.70" font-size="10">[</text>
<text x="138.20" y="396.70" font-size="10" textLength="15.4" lengthAdjust="spacingAndGlyphs">cm</text>
<path d="M154.20,391.20h4.9" stroke="#000" stroke-width="0.75"/>
<text x="159.30" y="393.70" font-size="6.9">3</text>
<text x="165.00" y="396.70" font-size="10">]</text>
<g transform="translate(9.10,357.20) rotate(-90)">
<text transform="translate(0.70,0.00) scale(1.197,1)" x="-0.44" y="0" font-size="10.40">d</text>
<text transform="translate(10.20,0.00) scale(0.987,1)" x="-0.32" y="0" font-size="10.40" font-style="italic">N</text>
<text transform="translate(20.20,0.00) scale(1.246,1)" x="-0.00" y="0" font-size="10.40">/</text>
<text transform="translate(27.20,0.00) scale(1.197,1)" x="-0.44" y="0" font-size="10.40">d</text>
<text transform="translate(35.70,0.00) scale(1.207,1)" x="-0.70" y="0" font-size="10.40">log</text>
<text transform="translate(53.45,2.60) scale(1.098,1)" x="-0.56" y="0" font-size="7.40">10</text>
<text transform="translate(64.70,0.00) scale(0.800,1)" x="-0.64" y="0" font-size="10.40">(</text>
<text transform="translate(67.70,0.00) scale(1.187,1)" x="-0.17" y="0" font-size="10.40" font-style="italic">n</text>
<text transform="translate(75.40,2.60) scale(1.094,1)" x="-0.59" y="0" font-size="7.20">H</text>
<text transform="translate(80.80,3.80) scale(0.971,1)" x="-0.26" y="0" font-size="5.20">2</text>
<text transform="translate(85.20,0.00) scale(0.800,1)" x="-0.06" y="0" font-size="10.40">)</text>
<text transform="translate(93.40,0.00) scale(0.919,1)" x="-0.74" y="0" font-size="10.40">[</text>
<text transform="translate(97.10,0.00) scale(1.171,1)" x="-0.44" y="0" font-size="10.40">dex</text>
<text transform="translate(124.80,-3.90) scale(0.846,1)" x="-0.56" y="0" font-size="7.40">1</text>
<text transform="translate(130.50,0.00) scale(0.919,1)" x="-0.08" y="0" font-size="10.40">]</text>
<path d="M118.8,-6.4h4.3" stroke="#000" stroke-width="0.8"/>
</g>
<g class="t">
<text transform="translate(43.25,219.50) scale(1.059,1)" x="-0.98" y="0" font-size="14.50">l</text>
<text transform="translate(47.10,219.50) scale(1.027,1)" x="-0.61" y="0" font-size="14.50">g</text>
<path d="M62.00,208.90L59.00,214.50L62.00,220.30" stroke="#000" stroke-width="1.1" fill="none"/>
<text transform="translate(63.00,219.50) scale(0.879,1)" x="-0.24" y="0" font-size="14.50" font-style="italic">n</text>
<text transform="translate(71.40,220.60) scale(1.108,1)" x="-0.69" y="0" font-size="8.40">H</text>
<text transform="translate(77.30,222.30) scale(1.204,1)" x="-0.31" y="0" font-size="6.20">2</text>
<path d="M84.00,208.90L87.00,214.50L84.00,220.30" stroke="#000" stroke-width="1.1" fill="none"/>
<text transform="translate(91.60,219.20) scale(1.022,1)" x="-0.71" y="0" font-size="14.50">=</text>
<text transform="translate(104.10,219.50) scale(0.952,1)" x="-0.57" y="0" font-size="15.00">3.5</text>
</g>
<clipPath id="c4"><rect x="293.60" y="205.60" width="205.10" height="170.30"/></clipPath>
<path d="M293.20,375.40H499.10" stroke="#4a4a4a" stroke-width="0.85"/>
<g clip-path="url(#c4)">
<line x1="322.90" y1="205.60" x2="322.90" y2="375.40" stroke="#eeeeee" stroke-width="0.8"/>
<line x1="352.20" y1="205.60" x2="352.20" y2="375.40" stroke="#eeeeee" stroke-width="0.8"/>
<line x1="381.50" y1="205.60" x2="381.50" y2="375.40" stroke="#eeeeee" stroke-width="0.8"/>
<line x1="410.80" y1="205.60" x2="410.80" y2="375.40" stroke="#eeeeee" stroke-width="0.8"/>
<line x1="440.10" y1="205.60" x2="440.10" y2="375.40" stroke="#eeeeee" stroke-width="0.8"/>
<line x1="469.40" y1="205.60" x2="469.40" y2="375.40" stroke="#eeeeee" stroke-width="0.8"/>
<line x1="293.60" y1="347.10" x2="498.70" y2="347.10" stroke="#eeeeee" stroke-width="0.8"/>
<line x1="293.60" y1="318.80" x2="498.70" y2="318.80" stroke="#eeeeee" stroke-width="0.8"/>
<line x1="293.60" y1="290.50" x2="498.70" y2="290.50" stroke="#eeeeee" stroke-width="0.8"/>
<line x1="293.60" y1="262.20" x2="498.70" y2="262.20" stroke="#eeeeee" stroke-width="0.8"/>
<line x1="293.60" y1="233.90" x2="498.70" y2="233.90" stroke="#eeeeee" stroke-width="0.8"/>
<path d="M293.6,377.4V323.0H296.2V377.4ZM301.8,377.4V317.4H302.4V316.2H303.0V315.0H303.6V313.9H304.1V312.7H304.7V311.5H305.3V310.4H305.9V309.2H306.5V308.1H307.1V306.9H307.7V305.8H308.2V304.7H308.8V303.6H309.4V302.5H310.0V301.4H310.6V300.3H311.2V299.2H311.8V298.2H312.4V297.1H312.9V296.1H313.5V295.0H314.1V294.0H314.7V292.9H315.3V291.9H315.9V290.9H316.5V289.9H317.0V288.9H317.6V287.9H318.2V286.9H318.8V286.0H319.4V285.0H320.0V284.0H320.6V283.1H321.1V282.2H321.7V281.2H322.3V280.3H322.9V279.4H323.5V278.5H324.1V277.6H324.7V276.7H325.2V275.8H325.8V274.9H326.4V274.0H327.0V273.2H327.6V272.3H328.2V271.5H328.8V270.6H329.3V269.8H329.9V269.0H330.5V268.2H331.1V267.4H331.7V266.6H332.3V265.8H332.9V265.0H333.4V264.2H334.0V263.5H334.6V262.7H335.2V262.0H335.8V261.2H336.4V260.5H337.0V259.8H337.6V259.1H338.1V258.3H338.7V257.6H339.3V256.9H339.9V256.3H340.5V255.6H341.1V254.9H341.7V254.3H342.2V253.6H342.8V253.0H343.4V252.3H344.0V251.7H344.6V251.1H345.2V250.5H345.8V249.9H346.3V249.3H346.9V248.7H347.5V248.1H348.1V247.5H348.7V246.9H349.3V246.4H349.9V245.8H350.4V245.3H351.0V244.8H351.6V244.2H352.2V243.7H352.8V243.2H353.4V242.7H354.0V242.2H354.5V241.7H355.1V241.3H355.7V240.8H356.3V240.3H356.9V239.9H357.5V239.4H358.1V239.0H358.6V238.6H359.2V238.1H359.8V237.7H360.4V237.3H361.0V236.9H361.6V236.5H362.2V236.2H362.7V235.8H363.3V235.4H363.9V235.1H364.5V234.7H365.1V234.4H365.7V234.0H366.3V233.7H366.9V233.4H367.4V233.1H368.0V232.8H368.6V232.5H369.2V232.2H369.8V231.9H370.4V231.7H371.0V231.4H371.5V231.2H372.1V230.9H372.7V230.7H373.3V230.4H373.9V230.2H374.5V230.0H375.1V229.8H375.6V229.6H376.2V229.4H376.8V229.2H377.4V229.1H378.0V228.9H378.6V228.7H379.2V228.6H379.7V228.5H380.3V228.3H380.9V228.2H381.5V228.1H382.1V228.0H382.7V227.9H383.3V227.8H383.8V227.7H384.4V227.6H385.0V227.5H385.6V227.5H386.2V227.4H386.8V227.4H387.4V227.3H387.9V227.3H388.5V227.3H389.1V227.3H389.7V227.3H390.3V227.3H390.9V227.3H391.5V227.3H392.0V227.3H392.6V227.4H393.2V227.4H393.8V227.5H394.4V227.5H395.0V227.6H395.6V227.7H396.2V227.8H396.7V227.8H397.3V227.9H397.9V228.0H398.5V228.2H399.1V228.3H399.7V228.4H400.3V228.6H400.8V228.7H401.4V228.9H402.0V229.0H402.6V229.2H403.2V229.4H403.8V229.6H404.4V229.8H404.9V230.0H405.5V230.2H406.1V230.4H406.7V230.6H407.3V230.8H407.9V231.1H408.5V231.3H409.0V231.6H409.6V231.9H410.2V232.1H410.8V232.4H411.4V232.7H412.0V233.0H412.6V233.3H413.1V233.6H413.7V234.0H414.3V234.3H414.9V234.6H415.5V235.0H416.1V235.3H416.7V235.7H417.2V236.1H417.8V236.4H418.4V236.8H419.0V237.2H419.6V237.6H420.2V238.0H420.8V238.5H421.3V238.9H421.9V239.3H422.5V239.8H423.1V240.2H423.7V240.7H424.3V241.1H424.9V241.6H425.5V242.1H426.0V242.6H426.6V243.1H427.2V243.6H427.8V244.1H428.4V245.0H429.0V245.8H429.6V246.7H430.1V247.5H430.7V248.4H431.3V249.2H431.9V250.1H432.5V250.9H433.1V251.8H433.7V252.6H434.2V253.5H434.8V254.3H435.4V255.2H436.0V256.0H436.6V256.9H437.2V257.7H437.8V258.6H438.3V259.4H438.9V260.3H439.5V261.1H440.1V262.0H440.7V262.8H441.3V263.6H441.9V264.5H442.4V265.3H443.0V266.2H443.6V267.0H444.2V267.9H444.8V268.7H445.4V269.6H446.0V270.4H446.5V271.3H447.1V272.1H447.7V273.0H448.3V273.8H448.9V274.7H449.5V275.5H450.1V276.4H450.6V277.2H451.2V278.1H451.8V278.9H452.4V279.8H453.0V280.6H453.6V281.5H454.2V282.3H454.8V283.2H455.3V284.0H455.9V284.9H456.5V285.7H457.1V286.6H457.7V287.4H458.3V288.3H458.9V289.1H459.4V290.0H460.0V290.8H460.6V291.7H461.2V292.5H461.8V293.4H462.4V294.2H463.0V295.1H463.5V295.9H464.1V296.8H464.7V297.6H465.3V298.5H465.9V299.3H466.5V300.2H467.1V301.0H467.6V301.9H468.2V302.7H468.8V303.6H469.4V304.4H470.0V305.3H470.6V306.1H471.2V306.9H471.7V307.8H472.3V308.6H472.9V309.5H473.5V310.3H474.1V311.2H474.7V312.0H475.3V312.9H475.8V313.7H476.4V314.7H477.0V315.9H477.6V317.1H478.2V318.3H478.8V319.5H479.4V320.8H479.9V322.0H480.5V323.2H481.1V324.5H481.7V325.7H482.3V327.0H482.9V328.2H483.5V329.5H484.1V330.8H484.6V332.1H485.2V333.4H485.8V334.7H486.4V336.0H487.0V337.3H487.6V338.7H488.2V340.0H488.7V341.4H489.3V342.7H489.9V344.1H490.5V345.4H491.1V346.8H491.7V348.2H492.3V349.6H492.8V351.0H493.4V352.4H494.0V353.8H494.6V355.3H495.2V356.7H495.8V358.1H496.4V359.6H496.9V361.1H497.5V362.5H498.1V364.0H498.7V377.4Z" fill="#1f77b4" fill-opacity="0.20"/>
<path d="M426.3,377.4V241.6H426.9V242.1H427.5V242.6H428.1V243.1H428.7V243.6H429.3V244.2H429.8V244.7H430.4V245.3H431.0V245.8H431.6V246.4H432.2V247.0H432.8V247.5H433.4V248.1H433.9V248.7H434.5V249.3H435.1V250.0H435.7V250.6H436.3V251.2H436.9V251.8H437.5V252.5H438.0V253.1H438.6V253.9H439.2V254.8H439.8V255.8H440.4V256.7H441.0V257.7H441.6V258.7H442.2V259.8H442.7V260.8H443.3V261.9H443.9V262.9H444.5V264.0H445.1V265.2H445.7V266.3H446.3V267.4H446.8V268.5H447.4V269.7H448.0V270.9H448.6V272.0H449.2V273.2H449.8V274.4H450.4V275.4H450.9V276.2H451.5V277.1H452.1V277.9H452.7V278.8H453.3V279.6H453.9V280.5H454.5V281.3H455.0V282.2H455.6V283.0H456.2V283.9H456.8V284.7H457.4V285.6H458.0V286.4H458.6V287.3H459.1V288.1H459.7V289.0H460.3V289.8H460.9V290.7H461.5V291.5H462.1V292.4H462.7V293.2H463.2V294.1H463.8V294.9H464.4V295.8H465.0V296.6H465.6V297.5H466.2V298.3H466.8V299.2H467.3V300.0H467.9V292.9H469.7V300.9H471.5V299.3H473.2V307.8H475.0V302.9H476.7V307.5H478.5V310.1H480.2V313.2H482.0V317.9H483.8V317.9H485.5V321.6H487.0V332.0H488.7V331.1H490.5V377.4ZM492.3,377.4V333.5H494.0V342.3H495.8V337.2H497.5V338.6H498.7V377.4Z" fill="#1e90ff" fill-opacity="0.48"/>
<rect x="407.87" y="205.60" width="5.86" height="169.80" fill="#1f77b4" fill-opacity="0.2"/>
<rect x="422.52" y="205.60" width="5.86" height="169.80" fill="#3c9cff" fill-opacity="0.26"/>
<polyline points="293.60,333.28 295.06,330.01 296.53,326.80 298.00,323.63 299.46,320.51 300.93,317.44 302.39,314.43 303.86,311.46 305.32,308.54 306.79,305.67 308.25,302.86 309.72,300.09 311.18,297.37 312.65,294.70 314.11,292.09 315.58,289.52 317.04,287.00 318.50,284.53 319.97,282.12 321.44,279.75 322.90,277.43 324.37,275.16 325.83,272.94 327.30,270.78 328.76,268.66 330.23,266.59 331.69,264.57 333.16,262.61 334.62,260.69 336.09,258.82 337.55,257.00 339.02,255.24 340.48,253.52 341.95,251.85 343.41,250.23 344.88,248.67 346.34,247.15 347.81,245.68 349.27,244.26 350.74,242.90 352.20,241.58 353.67,240.31 355.13,239.09 356.60,237.93 358.06,236.81 359.53,235.74 360.99,234.72 362.46,233.76 363.92,232.84 365.39,231.97 366.85,231.15 368.31,230.39 369.78,229.67 371.25,229.00 372.71,228.38 374.18,227.82 375.64,227.30 377.11,226.83 378.57,226.41 380.04,226.05 381.50,225.73 382.97,225.46 384.43,225.24 385.90,225.08 387.36,224.96 388.83,224.89 390.29,224.87 391.75,224.91 393.22,224.99 394.69,225.12 396.15,225.30 397.62,225.54 399.08,225.82 400.55,226.15 402.01,226.53 403.48,226.97 404.94,227.45 406.41,227.98 407.87,228.56 409.34,229.20 410.80,229.88 412.26,230.61 413.73,231.39 415.20,232.23 416.66,233.11 418.12,234.04 419.59,235.02 421.06,236.06 422.52,237.14 423.99,238.27 425.45,239.45 426.92,240.69 428.38,241.97 429.85,243.30 431.31,244.68 432.78,246.12 434.24,247.60 435.71,249.13 437.17,250.71 438.63,252.35 440.10,254.03 441.57,255.76 443.03,257.54 444.50,259.38 445.96,261.26 447.43,263.19 448.89,265.17 450.36,267.21 451.82,269.29 453.29,271.42 454.75,273.60 456.22,275.84 457.68,278.12 459.14,280.45 460.61,282.84 462.08,285.27 463.54,287.75 465.00,290.28 466.47,292.87 467.94,295.50 469.40,298.18 470.87,300.91 472.33,303.70 473.80,306.53 475.26,309.41 476.73,312.34 478.19,315.33 479.66,318.36 481.12,321.44 482.59,324.57 484.05,327.76 485.51,330.99 486.98,334.27 488.45,337.61 489.91,340.99 491.38,344.42 492.84,347.90 494.31,351.44 495.77,355.02 497.24,358.65 498.70,362.33" fill="none" stroke="#1b6db4" stroke-width="2.00"/>
<polyline points="293.60,446.49 295.06,441.80 296.53,437.17 298.00,432.59 299.46,428.06 300.93,423.57 302.39,419.14 303.86,414.76 305.32,410.43 306.79,406.14 308.25,401.91 309.72,397.73 311.18,393.60 312.65,389.51 314.11,385.48 315.58,381.50 317.04,377.56 318.50,373.68 319.97,369.85 321.44,366.07 322.90,362.33 324.37,358.65 325.83,355.02 327.30,351.44 328.76,347.90 330.23,344.42 331.69,340.99 333.16,337.61 334.62,334.27 336.09,330.99 337.55,327.76 339.02,324.57 340.48,321.44 341.95,318.36 343.41,315.33 344.88,312.34 346.34,309.41 347.81,306.53 349.27,303.70 350.74,300.91 352.20,298.18 353.67,295.50 355.13,292.87 356.60,290.28 358.06,287.75 359.53,285.27 360.99,282.84 362.46,280.45 363.92,278.12 365.39,275.84 366.85,273.60 368.31,271.42 369.78,269.29 371.25,267.21 372.71,265.17 374.18,263.19 375.64,261.26 377.11,259.38 378.57,257.54 380.04,255.76 381.50,254.03 382.97,252.35 384.43,250.71 385.90,249.13 387.36,247.60 388.83,246.12 390.29,244.68 391.75,243.30 393.22,241.97 394.69,240.69 396.15,239.45 397.62,238.27 399.08,237.14 400.55,236.06 402.01,235.02 403.48,234.04 404.94,233.11 406.41,232.23 407.87,231.39 409.34,230.61 410.80,229.88 412.26,229.20 413.73,228.56 415.20,227.98 416.66,227.45 418.12,226.97 419.59,226.53 421.06,226.15 422.52,225.82 423.99,225.54 425.45,225.30 426.92,225.12 428.38,224.99 429.85,224.91 431.31,224.87 432.78,224.89 434.24,224.96 435.71,225.08 437.17,225.24 438.63,225.46 440.10,225.73 441.57,226.05 443.03,226.41 444.50,226.83 445.96,227.30 447.43,227.82 448.89,228.38 450.36,229.00 451.82,229.67 453.29,230.39 454.75,231.15 456.22,231.97 457.68,232.84 459.14,233.76 460.61,234.72 462.08,235.74 463.54,236.81 465.00,237.93 466.47,239.09 467.94,240.31 469.40,241.58 470.87,242.90 472.33,244.26 473.80,245.68 475.26,247.15 476.73,248.67 478.19,250.23 479.66,251.85 481.12,253.52 482.59,255.24 484.05,257.00 485.51,258.82 486.98,260.69 488.45,262.61 489.91,264.57 491.38,266.59 492.84,268.66 494.31,270.78 495.77,272.94 497.24,275.16 498.70,277.43" fill="none" stroke="#0b850b" stroke-width="1.35"/>
<polyline points="425.45,225.30 425.97,225.56 426.50,225.81 427.02,226.06 427.54,226.31 428.07,226.57 428.59,226.82 429.11,227.07 429.64,227.32 430.16,227.58 430.68,227.83 431.21,228.08 431.73,228.34 432.25,228.59 432.78,228.84 433.30,229.09 433.82,229.35 434.34,229.60 434.87,229.85 435.39,230.10 435.91,230.36 436.44,230.61 436.96,230.86 437.48,231.11 438.01,231.37 438.53,231.62 439.05,231.87 439.58,232.13 440.10,232.38 440.62,232.63 441.15,232.88 441.67,233.14 442.19,233.39 442.72,233.64 443.24,233.89 443.76,234.15 444.29,234.40 444.81,234.65 445.33,234.90 445.86,235.16 446.38,235.41 446.90,235.66 447.43,235.92 447.95,236.17 448.47,236.42 448.99,236.67 449.52,236.93 450.04,237.18 450.56,237.43 451.09,237.68 451.61,237.94 452.13,238.19 452.66,238.44 453.18,238.69 453.70,238.95 454.23,239.20 454.75,239.45 455.27,239.71 455.80,239.96 456.32,240.21 456.84,240.46 457.37,240.72 457.89,240.97 458.41,241.22 458.94,241.47 459.46,241.73 459.98,241.98 460.51,242.23 461.03,242.49 461.55,242.74 462.08,242.99 462.60,243.24 463.12,243.50 463.64,243.75 464.17,244.00 464.69,244.25 465.21,244.51 465.74,244.76 466.26,245.01 466.78,245.26 467.31,245.52 467.83,245.77 468.35,246.02 468.88,246.28 469.40,246.53 469.92,246.78 470.45,247.03 470.97,247.29 471.49,247.54 472.02,247.79 472.54,248.04 473.06,248.30 473.59,248.55 474.11,248.80 474.63,249.05 475.16,249.31 475.68,249.56 476.20,249.81 476.73,250.07 477.25,250.32 477.77,250.57 478.29,250.82 478.82,251.08 479.34,251.33 479.86,251.58 480.39,251.83 480.91,252.09 481.43,252.34 481.96,252.59 482.48,252.84 483.00,253.10 483.53,253.35 484.05,253.60 484.57,253.86 485.10,254.11 485.62,254.36 486.14,254.61 486.67,254.87 487.19,255.12 487.71,255.37 488.24,255.62 488.76,255.88 489.28,256.13 489.81,256.38 490.33,256.64 490.85,256.89 491.38,257.14 491.90,257.39 492.42,257.65 492.94,257.90 493.47,258.15 493.99,258.40 494.51,258.66 495.04,258.91 495.56,259.16 496.08,259.41 496.61,259.67 497.13,259.92 497.65,260.17 498.18,260.43 498.70,260.68" fill="none" stroke="#0b850b" stroke-width="1.35" stroke-dasharray="5,2.2"/>
<polyline points="425.45,239.45 425.97,240.21 426.50,240.97 427.02,241.73 427.54,242.49 428.07,243.24 428.59,244.00 429.11,244.76 429.64,245.52 430.16,246.28 430.68,247.03 431.21,247.79 431.73,248.55 432.25,249.31 432.78,250.07 433.30,250.82 433.82,251.58 434.34,252.34 434.87,253.10 435.39,253.86 435.91,254.61 436.44,255.37 436.96,256.13 437.48,256.89 438.01,257.65 438.53,258.40 439.05,259.16 439.58,259.92 440.10,260.68 440.62,261.44 441.15,262.19 441.67,262.95 442.19,263.71 442.72,264.47 443.24,265.23 443.76,265.98 444.29,266.74 444.81,267.50 445.33,268.26 445.86,269.02 446.38,269.77 446.90,270.53 447.43,271.29 447.95,272.05 448.47,272.81 448.99,273.57 449.52,274.32 450.04,275.08 450.56,275.84 451.09,276.60 451.61,277.36 452.13,278.11 452.66,278.87 453.18,279.63 453.70,280.39 454.23,281.15 454.75,281.90 455.27,282.66 455.80,283.42 456.32,284.18 456.84,284.94 457.37,285.69 457.89,286.45 458.41,287.21 458.94,287.97 459.46,288.73 459.98,289.48 460.51,290.24 461.03,291.00 461.55,291.76 462.08,292.52 462.60,293.27 463.12,294.03 463.64,294.79 464.17,295.55 464.69,296.31 465.21,297.06 465.74,297.82 466.26,298.58 466.78,299.34 467.31,300.10 467.83,300.85 468.35,301.61 468.88,302.37 469.40,303.13 469.92,303.89 470.45,304.64 470.97,305.40 471.49,306.16 472.02,306.92 472.54,307.68 473.06,308.43 473.59,309.19 474.11,309.95 474.63,310.71 475.16,311.47 475.68,312.22 476.20,312.98 476.73,313.74 477.25,314.50 477.77,315.26 478.29,316.02 478.82,316.77 479.34,317.53 479.86,318.29 480.39,319.05 480.91,319.81 481.43,320.56 481.96,321.32 482.48,322.08 483.00,322.84 483.53,323.60 484.05,324.35 484.57,325.11 485.10,325.87 485.62,326.63 486.14,327.39 486.67,328.14 487.19,328.90 487.71,329.66 488.24,330.42 488.76,331.18 489.28,331.93 489.81,332.69 490.33,333.45 490.85,334.21 491.38,334.97 491.90,335.72 492.42,336.48 492.94,337.24 493.47,338.00 493.99,338.76 494.51,339.51 495.04,340.27 495.56,341.03 496.08,341.79 496.61,342.55 497.13,343.30 497.65,344.06 498.18,344.82 498.70,345.58" fill="none" stroke="#1e88f0" stroke-width="2.00" stroke-dasharray="5,2.4"/>
</g>
<g transform="translate(412.90,340.40) rotate(-90)">
<path d="M1.7,-6.3L0.1,-2.75L1.7,0.8" stroke="#111" stroke-width="0.75" fill="none"/>
<text x="1.9" y="0" font-size="8.8" font-style="italic" fill="#111" stroke="#111" stroke-width="0.2">n</text>
<text x="7.9" y="1.1" font-size="5.8" fill="#111" stroke="#111" stroke-width="0.15">H</text>
<text x="11.9" y="1.9" font-size="4.2" fill="#111">2</text>
<path d="M15.6,-6.3L17.2,-2.75L15.6,0.8" stroke="#111" stroke-width="0.75" fill="none"/>
</g>
<g transform="translate(426.85,363.90) rotate(-90)">
<text transform="scale(1.15,1)" x="-0.3" y="0" font-size="8.8" font-style="italic" fill="#111" stroke="#111" stroke-width="0.2">n</text>
<text x="5.3" y="2.2" font-size="5.8" fill="#111">H</text>
<text x="9.4" y="2.9" font-size="4.3" fill="#111">2</text>
<text x="11.4" y="2.2" font-size="5.8" fill="#111">,</text>
<text x="13.6" y="2.2" font-size="5.8" fill="#333" stroke="none" textLength="18.5" lengthAdjust="spacingAndGlyphs">thresh</text>
</g>
<path d="M293.60,375.80V205.60H498.70V375.80" fill="none" stroke="#4a4a4a" stroke-width="0.85"/>
<path d="M293.60,375.40v-2.2M293.60,205.60v2.2M322.90,375.40v-2.2M322.90,205.60v2.2M352.20,375.40v-2.2M352.20,205.60v2.2M381.50,375.40v-2.2M381.50,205.60v2.2M410.80,375.40v-2.2M410.80,205.60v2.2M440.10,375.40v-2.2M440.10,205.60v2.2M469.40,375.40v-2.2M469.40,205.60v2.2M498.70,375.40v-2.2M498.70,205.60v2.2M293.60,375.40h3M498.70,375.40h-3M293.60,366.88h1.8M498.70,366.88h-1.8M293.60,361.90h1.8M498.70,361.90h-1.8M293.60,358.36h1.8M498.70,358.36h-1.8M293.60,355.62h1.8M498.70,355.62h-1.8M293.60,353.38h1.8M498.70,353.38h-1.8M293.60,351.48h1.8M498.70,351.48h-1.8M293.60,349.84h1.8M498.70,349.84h-1.8M293.60,348.39h1.8M498.70,348.39h-1.8M293.60,347.10h3M498.70,347.10h-3M293.60,338.58h1.8M498.70,338.58h-1.8M293.60,333.60h1.8M498.70,333.60h-1.8M293.60,330.06h1.8M498.70,330.06h-1.8M293.60,327.32h1.8M498.70,327.32h-1.8M293.60,325.08h1.8M498.70,325.08h-1.8M293.60,323.18h1.8M498.70,323.18h-1.8M293.60,321.54h1.8M498.70,321.54h-1.8M293.60,320.09h1.8M498.70,320.09h-1.8M293.60,318.80h3M498.70,318.80h-3M293.60,310.28h1.8M498.70,310.28h-1.8M293.60,305.30h1.8M498.70,305.30h-1.8M293.60,301.76h1.8M498.70,301.76h-1.8M293.60,299.02h1.8M498.70,299.02h-1.8M293.60,296.78h1.8M498.70,296.78h-1.8M293.60,294.88h1.8M498.70,294.88h-1.8M293.60,293.24h1.8M498.70,293.24h-1.8M293.60,291.79h1.8M498.70,291.79h-1.8M293.60,290.50h3M498.70,290.50h-3M293.60,281.98h1.8M498.70,281.98h-1.8M293.60,277.00h1.8M498.70,277.00h-1.8M293.60,273.46h1.8M498.70,273.46h-1.8M293.60,270.72h1.8M498.70,270.72h-1.8M293.60,268.48h1.8M498.70,268.48h-1.8M293.60,266.58h1.8M498.70,266.58h-1.8M293.60,264.94h1.8M498.70,264.94h-1.8M293.60,263.49h1.8M498.70,263.49h-1.8M293.60,262.20h3M498.70,262.20h-3M293.60,253.68h1.8M498.70,253.68h-1.8M293.60,248.70h1.8M498.70,248.70h-1.8M293.60,245.16h1.8M498.70,245.16h-1.8M293.60,242.42h1.8M498.70,242.42h-1.8M293.60,240.18h1.8M498.70,240.18h-1.8M293.60,238.28h1.8M498.70,238.28h-1.8M293.60,236.64h1.8M498.70,236.64h-1.8M293.60,235.19h1.8M498.70,235.19h-1.8M293.60,233.90h3M498.70,233.90h-3M293.60,225.38h1.8M498.70,225.38h-1.8M293.60,220.40h1.8M498.70,220.40h-1.8M293.60,216.86h1.8M498.70,216.86h-1.8M293.60,214.12h1.8M498.70,214.12h-1.8M293.60,211.88h1.8M498.70,211.88h-1.8M293.60,209.98h1.8M498.70,209.98h-1.8M293.60,208.34h1.8M498.70,208.34h-1.8M293.60,206.89h1.8M498.70,206.89h-1.8M293.60,205.60h3M498.70,205.60h-3" stroke="#333" stroke-width="0.7" fill="none"/>
<rect x="294.90" y="344.20" width="66.4" height="29.5" rx="2" fill="#fff" fill-opacity="0.8" stroke="#d8d8d8" stroke-width="0.6"/>
<path d="M296.70,349.30h14.5" stroke="#1b6db4" stroke-width="2"/>
<path d="M296.70,358.50h14.5" stroke="#0b850b" stroke-width="1.35"/>
<path d="M297.20,368.00h14.5" stroke="#1e88f0" stroke-width="2" stroke-dasharray="6.9,2.6"/>
<text x="315.80" y="351.50" font-size="7.0" textLength="33" lengthAdjust="spacingAndGlyphs">by volume</text>
<text x="315.80" y="361.00" font-size="7.0" textLength="26.5" lengthAdjust="spacingAndGlyphs">by mass</text>
<text x="315.80" y="370.60" font-size="7.0" textLength="42.3" lengthAdjust="spacingAndGlyphs">powerlaw tail</text>
<text x="293.60" y="383.80" font-size="9.2" text-anchor="middle">1</text>
<text x="322.90" y="383.80" font-size="9.2" text-anchor="middle" textLength="10" lengthAdjust="spacingAndGlyphs">10</text>
<text x="344.80" y="383.80" font-size="9.2" textLength="10" lengthAdjust="spacingAndGlyphs">10</text>
<text x="355.70" y="380.80" font-size="6.7">2</text>
<text x="374.10" y="383.80" font-size="9.2" textLength="10" lengthAdjust="spacingAndGlyphs">10</text>
<text x="385.00" y="380.80" font-size="6.7">3</text>
<text x="403.40" y="383.80" font-size="9.2" textLength="10" lengthAdjust="spacingAndGlyphs">10</text>
<text x="414.30" y="380.80" font-size="6.7">4</text>
<text x="432.70" y="383.80" font-size="9.2" textLength="10" lengthAdjust="spacingAndGlyphs">10</text>
<text x="443.60" y="380.80" font-size="6.7">5</text>
<text x="462.00" y="383.80" font-size="9.2" textLength="10" lengthAdjust="spacingAndGlyphs">10</text>
<text x="472.90" y="380.80" font-size="6.7">6</text>
<text x="491.30" y="383.80" font-size="9.2" textLength="10" lengthAdjust="spacingAndGlyphs">10</text>
<text x="502.20" y="380.80" font-size="6.7">7</text>
<text x="272.30" y="379.10" font-size="9.2" textLength="10" lengthAdjust="spacingAndGlyphs">10</text>
<path d="M283.40,374.00h3.4" stroke="#000" stroke-width="0.7"/>
<text x="287.20" y="375.90" font-size="6.6">2</text>
<text x="272.30" y="350.80" font-size="9.2" textLength="10" lengthAdjust="spacingAndGlyphs">10</text>
<path d="M283.40,345.70h3.4" stroke="#000" stroke-width="0.7"/>
<text x="287.20" y="347.60" font-size="6.6">1</text>
<text x="291.70" y="322.20" font-size="9.2" text-anchor="end">1</text>
<text x="291.60" y="293.90" font-size="9.2" text-anchor="end" textLength="10" lengthAdjust="spacingAndGlyphs">10</text>
<text x="277.00" y="265.30" font-size="9.2" textLength="10" lengthAdjust="spacingAndGlyphs">10</text>
<text x="287.50" y="262.30" font-size="6.7">2</text>
<text x="277.00" y="237.00" font-size="9.2" textLength="10" lengthAdjust="spacingAndGlyphs">10</text>
<text x="287.50" y="234.00" font-size="6.7">3</text>
<text x="277.00" y="208.70" font-size="9.2" textLength="10" lengthAdjust="spacingAndGlyphs">10</text>
<text x="287.50" y="205.70" font-size="6.7">4</text>
<text x="368.20" y="396.70" font-size="10" font-style="italic">n</text>
<text x="374.90" y="398.70" font-size="6.8">H</text>
<text x="380.00" y="399.80" font-size="4.8">2</text>
<text x="385.30" y="396.70" font-size="10">/</text>
<text x="389.60" y="396.70" font-size="10">[</text>
<text x="393.40" y="396.70" font-size="10" textLength="15.4" lengthAdjust="spacingAndGlyphs">cm</text>
<path d="M409.40,391.20h4.9" stroke="#000" stroke-width="0.75"/>
<text x="414.50" y="393.70" font-size="6.9">3</text>
<text x="420.20" y="396.70" font-size="10">]</text>
<g transform="translate(264.30,357.20) rotate(-90)">
<text transform="translate(0.70,0.00) scale(1.197,1)" x="-0.44" y="0" font-size="10.40">d</text>
<text transform="translate(10.20,0.00) scale(0.987,1)" x="-0.32" y="0" font-size="10.40" font-style="italic">N</text>
<text transform="translate(20.20,0.00) scale(1.246,1)" x="-0.00" y="0" font-size="10.40">/</text>
<text transform="translate(27.20,0.00) scale(1.197,1)" x="-0.44" y="0" font-size="10.40">d</text>
<text transform="translate(35.70,0.00) scale(1.207,1)" x="-0.70" y="0" font-size="10.40">log</text>
<text transform="translate(53.45,2.60) scale(1.098,1)" x="-0.56" y="0" font-size="7.40">10</text>
<text transform="translate(64.70,0.00) scale(0.800,1)" x="-0.64" y="0" font-size="10.40">(</text>
<text transform="translate(67.70,0.00) scale(1.187,1)" x="-0.17" y="0" font-size="10.40" font-style="italic">n</text>
<text transform="translate(75.40,2.60) scale(1.094,1)" x="-0.59" y="0" font-size="7.20">H</text>
<text transform="translate(80.80,3.80) scale(0.971,1)" x="-0.26" y="0" font-size="5.20">2</text>
<text transform="translate(85.20,0.00) scale(0.800,1)" x="-0.06" y="0" font-size="10.40">)</text>
<text transform="translate(93.40,0.00) scale(0.919,1)" x="-0.74" y="0" font-size="10.40">[</text>
<text transform="translate(97.10,0.00) scale(1.171,1)" x="-0.44" y="0" font-size="10.40">dex</text>
<text transform="translate(124.80,-3.90) scale(0.846,1)" x="-0.56" y="0" font-size="7.40">1</text>
<text transform="translate(130.50,0.00) scale(0.919,1)" x="-0.08" y="0" font-size="10.40">]</text>
<path d="M118.8,-6.4h4.3" stroke="#000" stroke-width="0.8"/>
</g>
<g class="t">
<text transform="translate(298.25,219.40) scale(1.059,1)" x="-0.98" y="0" font-size="14.50">l</text>
<text transform="translate(302.10,219.40) scale(1.027,1)" x="-0.61" y="0" font-size="14.50">g</text>
<path d="M317.00,208.80L314.00,214.40L317.00,220.20" stroke="#000" stroke-width="1.1" fill="none"/>
<text transform="translate(318.00,219.40) scale(0.879,1)" x="-0.24" y="0" font-size="14.50" font-style="italic">n</text>
<text transform="translate(326.40,220.50) scale(1.108,1)" x="-0.69" y="0" font-size="8.40">H</text>
<text transform="translate(332.30,222.20) scale(1.204,1)" x="-0.31" y="0" font-size="6.20">2</text>
<path d="M339.00,208.80L342.00,214.40L339.00,220.20" stroke="#000" stroke-width="1.1" fill="none"/>
<text transform="translate(346.60,219.10) scale(1.022,1)" x="-0.71" y="0" font-size="14.50">=</text>
<text transform="translate(359.10,219.40) scale(0.939,1)" x="-0.34" y="0" font-size="15.00">4.0</text>
</g>
<clipPath id="c5"><rect x="548.90" y="205.60" width="205.10" height="170.30"/></clipPath>
<path d="M548.50,375.40H754.40" stroke="#4a4a4a" stroke-width="0.85"/>
<g clip-path="url(#c5)">
<line x1="578.20" y1="205.60" x2="578.20" y2="375.40" stroke="#eeeeee" stroke-width="0.8"/>
<line x1="607.50" y1="205.60" x2="607.50" y2="375.40" stroke="#eeeeee" stroke-width="0.8"/>
<line x1="636.80" y1="205.60" x2="636.80" y2="375.40" stroke="#eeeeee" stroke-width="0.8"/>
<line x1="666.10" y1="205.60" x2="666.10" y2="375.40" stroke="#eeeeee" stroke-width="0.8"/>
<line x1="695.40" y1="205.60" x2="695.40" y2="375.40" stroke="#eeeeee" stroke-width="0.8"/>
<line x1="724.70" y1="205.60" x2="724.70" y2="375.40" stroke="#eeeeee" stroke-width="0.8"/>
<line x1="548.90" y1="347.10" x2="754.00" y2="347.10" stroke="#eeeeee" stroke-width="0.8"/>
<line x1="548.90" y1="318.80" x2="754.00" y2="318.80" stroke="#eeeeee" stroke-width="0.8"/>
<line x1="548.90" y1="290.50" x2="754.00" y2="290.50" stroke="#eeeeee" stroke-width="0.8"/>
<line x1="548.90" y1="262.20" x2="754.00" y2="262.20" stroke="#eeeeee" stroke-width="0.8"/>
<line x1="548.90" y1="233.90" x2="754.00" y2="233.90" stroke="#eeeeee" stroke-width="0.8"/>
<path d="M563.3,377.4V318.8H565.3V325.9H567.4V309.5H571.5V299.6H577.9V308.9H584.9V299.5H585.5V298.5H586.1V297.5H586.7V296.5H587.3V295.5H587.9V294.5H588.5V293.5H589.0V292.5H589.6V291.6H590.2V290.6H590.8V289.7H591.4V288.7H592.0V287.8H592.6V286.9H593.2V286.0H593.7V285.1H594.3V284.2H594.9V283.3H595.5V282.4H596.1V281.5H596.7V280.7H597.3V279.8H597.9V278.9H598.4V278.1H599.0V277.0H599.6V276.0H600.2V274.9H600.8V273.9H601.4V272.8H602.0V271.8H602.5V270.8H603.1V269.8H603.7V268.8H604.3V267.8H604.9V266.8H605.5V265.8H606.1V264.8H606.7V263.8H607.2V262.9H607.8V261.9H608.4V261.0H609.0V260.1H609.6V259.1H610.2V258.2H610.8V257.3H611.4V256.4H611.9V255.5H612.5V254.6H613.1V253.7H613.7V252.9H614.3V252.0H614.9V251.2H615.5V250.3H616.1V249.5H616.6V248.9H617.2V248.3H617.8V247.7H618.4V247.2H619.0V246.6H619.6V246.1H620.2V245.5H620.7V245.0H621.3V244.4H621.9V243.9H622.5V243.4H623.1V242.9H623.7V242.4H624.3V241.9H624.9V241.4H625.4V241.0H626.0V240.5H626.6V240.0H627.2V239.6H627.8V239.2H628.4V238.7H629.0V238.3H629.6V237.9H630.1V237.5H630.7V237.1H631.3V236.7H631.9V236.3H632.5V235.9H633.1V235.6H633.7V235.2H634.2V234.8H634.8V234.5H635.4V234.2H636.0V233.8H636.6V233.5H637.2V233.2H637.8V232.9H638.4V232.6H638.9V232.3H639.5V232.0H640.1V231.8H640.7V231.5H641.3V231.2H641.9V231.0H642.5V230.7H643.1V230.5H643.6V230.3H644.2V230.1H644.8V229.9H645.4V229.7H646.0V229.5H646.6V229.3H647.2V229.1H647.7V228.9H648.3V228.8H648.9V228.6H649.5V228.5H650.1V228.4H650.7V228.2H651.3V228.1H651.9V228.0H652.4V227.9H653.0V227.8H653.6V227.7H654.2V227.6H654.8V227.6H655.4V227.5H656.0V227.4H656.6V227.4H657.1V227.4H657.7V227.3H658.3V227.3H658.9V227.3H659.5V227.3H660.1V227.3H660.7V227.3H661.3V227.3H661.8V227.3H662.4V227.4H663.0V227.4H663.6V227.5H664.2V227.5H664.8V227.6H665.4V227.6H665.9V227.7H666.5V227.8H667.1V227.9H667.7V228.0H668.3V228.1H668.9V228.3H669.5V228.4H670.1V228.5H670.6V228.7H671.2V228.8H671.8V229.0H672.4V229.2H673.0V229.3H673.6V229.5H674.2V229.7H674.8V229.9H675.3V230.1H675.9V230.3H676.5V230.6H677.1V230.8H677.7V231.0H678.3V231.3H678.9V231.5H679.4V231.8H680.0V232.1H680.6V232.4H681.2V232.7H681.8V233.0H682.4V233.3H683.0V233.6H683.6V233.9H684.1V234.2H684.7V234.6H685.3V234.9H685.9V235.3H686.5V235.6H687.1V236.0H687.7V236.4H688.3V236.8H688.8V237.2H689.4V237.6H690.0V238.0H690.6V238.4H691.2V238.8H691.8V239.2H692.4V239.7H693.0V240.1H693.5V240.6H694.1V241.1H694.7V241.5H695.3V242.0H695.9V242.5H696.5V243.0H697.1V243.5H697.6V244.0H698.2V244.6H698.8V245.1H699.4V245.6H700.0V246.2H700.6V246.7H701.2V247.3H701.8V247.9H702.3V248.4H702.9V249.0H703.5V249.6H704.1V250.2H704.7V250.8H705.3V251.4H705.9V252.1H706.5V252.7H707.0V253.4H707.6V254.0H708.2V254.7H708.8V255.3H709.4V256.0H710.0V256.7H710.6V257.4H711.1V258.1H711.7V258.8H712.3V259.5H712.9V260.2H713.5V261.0H714.1V261.7H714.7V262.4H715.3V263.2H715.8V264.0H716.4V264.7H717.0V265.5H717.6V266.3H718.2V267.1H718.8V267.9H719.4V268.7H720.0V269.5H720.5V270.4H721.1V271.2H721.7V272.0H722.3V272.9H722.9V273.7H723.5V274.6H724.1V275.5H724.6V276.4H725.2V277.3H725.8V278.2H726.4V279.1H727.0V280.0H727.6V280.9H728.2V281.8H728.8V282.8H729.3V283.7H729.9V284.7H730.5V285.7H731.1V286.6H731.7V287.6H732.3V288.6H732.9V289.6H733.5V290.6H734.0V291.6H734.6V292.6H735.2V293.7H735.8V294.7H736.4V295.7H737.0V296.8H737.6V297.9H738.2V298.9H738.7V300.0H739.3V301.1H739.9V302.2H740.5V303.3H741.1V304.4H741.7V305.5H742.3V306.6H742.8V307.8H743.4V308.9H744.0V310.0H744.6V311.2H745.2V312.4H745.8V313.5H746.4V314.7H747.0V315.9H747.5V317.1H748.1V318.3H748.7V319.5H749.3V320.7H749.9V322.0H750.5V323.2H751.1V324.5H751.7V325.7H752.2V327.0H752.8V328.2H753.4V329.5H754.0V377.4Z" fill="#1f77b4" fill-opacity="0.20"/>
<path d="M681.6,377.4V232.4H682.2V233.3H682.8V234.1H683.4V235.0H684.0V235.8H684.6V236.7H685.1V237.5H685.7V238.4H686.3V239.2H686.9V240.1H687.5V240.9H688.1V241.8H688.7V242.6H689.2V243.5H689.8V244.3H690.4V245.2H691.0V246.0H691.6V246.9H692.2V247.5H692.5V246.9H694.8V246.8H697.2V251.3H699.5V258.1H701.8V258.2H704.2V262.1H706.5V268.3H708.9V270.4H711.2V271.0H713.6V278.1H715.9V279.3H718.3V281.6H720.6V288.2H722.9V287.3H725.3V295.7H727.6V295.4H730.0V297.6H732.3V301.6H733.5V307.9H735.2V306.5H737.0V308.0H738.8V314.5H740.5V313.6H742.3V317.8H744.0V377.4ZM745.8,377.4V329.8H747.6V335.1H749.3V377.4ZM751.1,377.4V329.1H752.8V328.1H754.0V377.4Z" fill="#1e90ff" fill-opacity="0.48"/>
<rect x="677.82" y="205.60" width="5.86" height="169.80" fill="#1f77b4" fill-opacity="0.2"/>
<rect x="677.82" y="205.60" width="5.86" height="169.80" fill="#3c9cff" fill-opacity="0.26"/>
<polyline points="548.90,368.71 550.37,364.94 551.83,361.22 553.29,357.56 554.76,353.94 556.23,350.37 557.69,346.85 559.15,343.39 560.62,339.97 562.08,336.60 563.55,333.28 565.01,330.01 566.48,326.80 567.94,323.63 569.41,320.51 570.88,317.44 572.34,314.43 573.80,311.46 575.27,308.54 576.74,305.67 578.20,302.86 579.66,300.09 581.13,297.37 582.60,294.70 584.06,292.09 585.52,289.52 586.99,287.00 588.45,284.53 589.92,282.12 591.38,279.75 592.85,277.43 594.31,275.16 595.78,272.94 597.25,270.78 598.71,268.66 600.17,266.59 601.64,264.57 603.11,262.61 604.57,260.69 606.03,258.82 607.50,257.00 608.96,255.24 610.43,253.52 611.89,251.85 613.36,250.23 614.82,248.67 616.29,247.15 617.75,245.68 619.22,244.26 620.68,242.90 622.15,241.58 623.62,240.31 625.08,239.09 626.54,237.93 628.01,236.81 629.48,235.74 630.94,234.72 632.40,233.76 633.87,232.84 635.34,231.97 636.80,231.15 638.26,230.39 639.73,229.67 641.19,229.00 642.66,228.38 644.12,227.82 645.59,227.30 647.05,226.83 648.52,226.41 649.99,226.05 651.45,225.73 652.91,225.46 654.38,225.24 655.85,225.08 657.31,224.96 658.77,224.89 660.24,224.87 661.70,224.91 663.17,224.99 664.63,225.12 666.10,225.30 667.56,225.54 669.03,225.82 670.50,226.15 671.96,226.53 673.42,226.97 674.89,227.45 676.35,227.98 677.82,228.56 679.28,229.20 680.75,229.88 682.21,230.61 683.68,231.39 685.14,232.23 686.61,233.11 688.08,234.04 689.54,235.02 691.00,236.06 692.47,237.14 693.93,238.27 695.40,239.45 696.87,240.69 698.33,241.97 699.79,243.30 701.26,244.68 702.72,246.12 704.19,247.60 705.65,249.13 707.12,250.71 708.59,252.35 710.05,254.03 711.51,255.76 712.98,257.54 714.44,259.38 715.91,261.26 717.38,263.19 718.84,265.17 720.30,267.21 721.77,269.29 723.23,271.42 724.70,273.60 726.16,275.84 727.63,278.12 729.10,280.45 730.56,282.84 732.02,285.27 733.49,287.75 734.95,290.28 736.42,292.87 737.88,295.50 739.35,298.18 740.81,300.91 742.28,303.70 743.75,306.53 745.21,309.41 746.67,312.34 748.14,315.33 749.61,318.36 751.07,321.44 752.53,324.57 754.00,327.76" fill="none" stroke="#1b6db4" stroke-width="2.00"/>
<polyline points="548.90,496.06 550.37,490.88 551.83,485.75 553.29,480.67 554.76,475.63 556.23,470.65 557.69,465.72 559.15,460.84 560.62,456.00 562.08,451.22 563.55,446.49 565.01,441.80 566.48,437.17 567.94,432.59 569.41,428.06 570.88,423.57 572.34,419.14 573.80,414.76 575.27,410.43 576.74,406.14 578.20,401.91 579.66,397.73 581.13,393.60 582.60,389.51 584.06,385.48 585.52,381.50 586.99,377.56 588.45,373.68 589.92,369.85 591.38,366.07 592.85,362.33 594.31,358.65 595.78,355.02 597.25,351.44 598.71,347.90 600.17,344.42 601.64,340.99 603.11,337.61 604.57,334.27 606.03,330.99 607.50,327.76 608.96,324.57 610.43,321.44 611.89,318.36 613.36,315.33 614.82,312.34 616.29,309.41 617.75,306.53 619.22,303.70 620.68,300.91 622.15,298.18 623.62,295.50 625.08,292.87 626.54,290.28 628.01,287.75 629.48,285.27 630.94,282.84 632.40,280.45 633.87,278.12 635.34,275.84 636.80,273.60 638.26,271.42 639.73,269.29 641.19,267.21 642.66,265.17 644.12,263.19 645.59,261.26 647.05,259.38 648.52,257.54 649.99,255.76 651.45,254.03 652.91,252.35 654.38,250.71 655.85,249.13 657.31,247.60 658.77,246.12 660.24,244.68 661.70,243.30 663.17,241.97 664.63,240.69 666.10,239.45 667.56,238.27 669.03,237.14 670.50,236.06 671.96,235.02 673.42,234.04 674.89,233.11 676.35,232.23 677.82,231.39 679.28,230.61 680.75,229.88 682.21,229.20 683.68,228.56 685.14,227.98 686.61,227.45 688.08,226.97 689.54,226.53 691.00,226.15 692.47,225.82 693.93,225.54 695.40,225.30 696.87,225.12 698.33,224.99 699.79,224.91 701.26,224.87 702.72,224.89 704.19,224.96 705.65,225.08 707.12,225.24 708.59,225.46 710.05,225.73 711.51,226.05 712.98,226.41 714.44,226.83 715.91,227.30 717.38,227.82 718.84,228.38 720.30,229.00 721.77,229.67 723.23,230.39 724.70,231.15 726.16,231.97 727.63,232.84 729.10,233.76 730.56,234.72 732.02,235.74 733.49,236.81 734.95,237.93 736.42,239.09 737.88,240.31 739.35,241.58 740.81,242.90 742.28,244.26 743.75,245.68 745.21,247.15 746.67,248.67 748.14,250.23 749.61,251.85 751.07,253.52 752.53,255.24 754.00,257.00" fill="none" stroke="#0b850b" stroke-width="1.35"/>
<polyline points="680.75,229.88 681.27,230.13 681.80,230.38 682.32,230.64 682.84,230.89 683.37,231.14 683.89,231.39 684.41,231.65 684.94,231.90 685.46,232.15 685.98,232.40 686.51,232.66 687.03,232.91 687.55,233.16 688.08,233.42 688.60,233.67 689.12,233.92 689.64,234.17 690.17,234.43 690.69,234.68 691.21,234.93 691.74,235.18 692.26,235.44 692.78,235.69 693.31,235.94 693.83,236.20 694.35,236.45 694.88,236.70 695.40,236.95 695.92,237.21 696.45,237.46 696.97,237.71 697.49,237.96 698.02,238.22 698.54,238.47 699.06,238.72 699.59,238.97 700.11,239.23 700.63,239.48 701.16,239.73 701.68,239.99 702.20,240.24 702.72,240.49 703.25,240.74 703.77,241.00 704.29,241.25 704.82,241.50 705.34,241.75 705.86,242.01 706.39,242.26 706.91,242.51 707.43,242.76 707.96,243.02 708.48,243.27 709.00,243.52 709.53,243.78 710.05,244.03 710.57,244.28 711.10,244.53 711.62,244.79 712.14,245.04 712.67,245.29 713.19,245.54 713.71,245.80 714.24,246.05 714.76,246.30 715.28,246.55 715.81,246.81 716.33,247.06 716.85,247.31 717.38,247.57 717.90,247.82 718.42,248.07 718.94,248.32 719.47,248.58 719.99,248.83 720.51,249.08 721.04,249.33 721.56,249.59 722.08,249.84 722.61,250.09 723.13,250.35 723.65,250.60 724.18,250.85 724.70,251.10 725.22,251.36 725.75,251.61 726.27,251.86 726.79,252.11 727.32,252.37 727.84,252.62 728.36,252.87 728.89,253.12 729.41,253.38 729.93,253.63 730.46,253.88 730.98,254.14 731.50,254.39 732.02,254.64 732.55,254.89 733.07,255.15 733.59,255.40 734.12,255.65 734.64,255.90 735.16,256.16 735.69,256.41 736.21,256.66 736.73,256.91 737.26,257.17 737.78,257.42 738.30,257.67 738.83,257.93 739.35,258.18 739.87,258.43 740.40,258.68 740.92,258.94 741.44,259.19 741.97,259.44 742.49,259.69 743.01,259.95 743.54,260.20 744.06,260.45 744.58,260.70 745.11,260.96 745.63,261.21 746.15,261.46 746.67,261.72 747.20,261.97 747.72,262.22 748.24,262.47 748.77,262.73 749.29,262.98 749.81,263.23 750.34,263.48 750.86,263.74 751.38,263.99 751.91,264.24 752.43,264.50 752.95,264.75 753.48,265.00 754.00,265.25" fill="none" stroke="#0b850b" stroke-width="1.35" stroke-dasharray="5,2.2"/>
<polyline points="680.75,229.88 681.27,230.64 681.80,231.39 682.32,232.15 682.84,232.91 683.37,233.67 683.89,234.43 684.41,235.18 684.94,235.94 685.46,236.70 685.98,237.46 686.51,238.22 687.03,238.97 687.55,239.73 688.08,240.49 688.60,241.25 689.12,242.01 689.64,242.76 690.17,243.52 690.69,244.28 691.21,245.04 691.74,245.80 692.26,246.55 692.78,247.31 693.31,248.07 693.83,248.83 694.35,249.59 694.88,250.35 695.40,251.10 695.92,251.86 696.45,252.62 696.97,253.38 697.49,254.14 698.02,254.89 698.54,255.65 699.06,256.41 699.59,257.17 700.11,257.93 700.63,258.68 701.16,259.44 701.68,260.20 702.20,260.96 702.72,261.72 703.25,262.47 703.77,263.23 704.29,263.99 704.82,264.75 705.34,265.51 705.86,266.26 706.39,267.02 706.91,267.78 707.43,268.54 707.96,269.30 708.48,270.05 709.00,270.81 709.53,271.57 710.05,272.33 710.57,273.09 711.10,273.84 711.62,274.60 712.14,275.36 712.67,276.12 713.19,276.88 713.71,277.63 714.24,278.39 714.76,279.15 715.28,279.91 715.81,280.67 716.33,281.42 716.85,282.18 717.38,282.94 717.90,283.70 718.42,284.46 718.94,285.21 719.47,285.97 719.99,286.73 720.51,287.49 721.04,288.25 721.56,289.00 722.08,289.76 722.61,290.52 723.13,291.28 723.65,292.04 724.18,292.80 724.70,293.55 725.22,294.31 725.75,295.07 726.27,295.83 726.79,296.59 727.32,297.34 727.84,298.10 728.36,298.86 728.89,299.62 729.41,300.38 729.93,301.13 730.46,301.89 730.98,302.65 731.50,303.41 732.02,304.17 732.55,304.92 733.07,305.68 733.59,306.44 734.12,307.20 734.64,307.96 735.16,308.71 735.69,309.47 736.21,310.23 736.73,310.99 737.26,311.75 737.78,312.50 738.30,313.26 738.83,314.02 739.35,314.78 739.87,315.54 740.40,316.29 740.92,317.05 741.44,317.81 741.97,318.57 742.49,319.33 743.01,320.08 743.54,320.84 744.06,321.60 744.58,322.36 745.11,323.12 745.63,323.87 746.15,324.63 746.67,325.39 747.20,326.15 747.72,326.91 748.24,327.66 748.77,328.42 749.29,329.18 749.81,329.94 750.34,330.70 750.86,331.45 751.38,332.21 751.91,332.97 752.43,333.73 752.95,334.49 753.48,335.25 754.00,336.00" fill="none" stroke="#1e88f0" stroke-width="2.00" stroke-dasharray="5,2.4"/>
</g>
<g transform="translate(680.15,341.00) rotate(-90)">
<path d="M1.7,-6.3L0.1,-2.75L1.7,0.8" stroke="#111" stroke-width="0.75" fill="none"/>
<text x="1.9" y="0" font-size="8.8" font-style="italic" fill="#111" stroke="#111" stroke-width="0.2">n</text>
<text x="7.9" y="1.1" font-size="5.8" fill="#111" stroke="#111" stroke-width="0.15">H</text>
<text x="11.9" y="1.9" font-size="4.2" fill="#111">2</text>
<path d="M15.6,-6.3L17.2,-2.75L15.6,0.8" stroke="#111" stroke-width="0.75" fill="none"/>
</g>
<g transform="translate(683.95,363.80) rotate(-90)">
<text transform="scale(1.15,1)" x="-0.3" y="0" font-size="8.8" font-style="italic" fill="#111" stroke="#111" stroke-width="0.2">n</text>
<text x="5.3" y="2.2" font-size="5.8" fill="#111">H</text>
<text x="9.4" y="2.9" font-size="4.3" fill="#111">2</text>
<text x="11.4" y="2.2" font-size="5.8" fill="#111">,</text>
<text x="13.6" y="2.2" font-size="5.8" fill="#333" stroke="none" textLength="18.5" lengthAdjust="spacingAndGlyphs">thresh</text>
</g>
<path d="M548.90,375.80V205.60H754.00V375.80" fill="none" stroke="#4a4a4a" stroke-width="0.85"/>
<path d="M548.90,375.40v-2.2M548.90,205.60v2.2M578.20,375.40v-2.2M578.20,205.60v2.2M607.50,375.40v-2.2M607.50,205.60v2.2M636.80,375.40v-2.2M636.80,205.60v2.2M666.10,375.40v-2.2M666.10,205.60v2.2M695.40,375.40v-2.2M695.40,205.60v2.2M724.70,375.40v-2.2M724.70,205.60v2.2M754.00,375.40v-2.2M754.00,205.60v2.2M548.90,375.40h3M754.00,375.40h-3M548.90,366.88h1.8M754.00,366.88h-1.8M548.90,361.90h1.8M754.00,361.90h-1.8M548.90,358.36h1.8M754.00,358.36h-1.8M548.90,355.62h1.8M754.00,355.62h-1.8M548.90,353.38h1.8M754.00,353.38h-1.8M548.90,351.48h1.8M754.00,351.48h-1.8M548.90,349.84h1.8M754.00,349.84h-1.8M548.90,348.39h1.8M754.00,348.39h-1.8M548.90,347.10h3M754.00,347.10h-3M548.90,338.58h1.8M754.00,338.58h-1.8M548.90,333.60h1.8M754.00,333.60h-1.8M548.90,330.06h1.8M754.00,330.06h-1.8M548.90,327.32h1.8M754.00,327.32h-1.8M548.90,325.08h1.8M754.00,325.08h-1.8M548.90,323.18h1.8M754.00,323.18h-1.8M548.90,321.54h1.8M754.00,321.54h-1.8M548.90,320.09h1.8M754.00,320.09h-1.8M548.90,318.80h3M754.00,318.80h-3M548.90,310.28h1.8M754.00,310.28h-1.8M548.90,305.30h1.8M754.00,305.30h-1.8M548.90,301.76h1.8M754.00,301.76h-1.8M548.90,299.02h1.8M754.00,299.02h-1.8M548.90,296.78h1.8M754.00,296.78h-1.8M548.90,294.88h1.8M754.00,294.88h-1.8M548.90,293.24h1.8M754.00,293.24h-1.8M548.90,291.79h1.8M754.00,291.79h-1.8M548.90,290.50h3M754.00,290.50h-3M548.90,281.98h1.8M754.00,281.98h-1.8M548.90,277.00h1.8M754.00,277.00h-1.8M548.90,273.46h1.8M754.00,273.46h-1.8M548.90,270.72h1.8M754.00,270.72h-1.8M548.90,268.48h1.8M754.00,268.48h-1.8M548.90,266.58h1.8M754.00,266.58h-1.8M548.90,264.94h1.8M754.00,264.94h-1.8M548.90,263.49h1.8M754.00,263.49h-1.8M548.90,262.20h3M754.00,262.20h-3M548.90,253.68h1.8M754.00,253.68h-1.8M548.90,248.70h1.8M754.00,248.70h-1.8M548.90,245.16h1.8M754.00,245.16h-1.8M548.90,242.42h1.8M754.00,242.42h-1.8M548.90,240.18h1.8M754.00,240.18h-1.8M548.90,238.28h1.8M754.00,238.28h-1.8M548.90,236.64h1.8M754.00,236.64h-1.8M548.90,235.19h1.8M754.00,235.19h-1.8M548.90,233.90h3M754.00,233.90h-3M548.90,225.38h1.8M754.00,225.38h-1.8M548.90,220.40h1.8M754.00,220.40h-1.8M548.90,216.86h1.8M754.00,216.86h-1.8M548.90,214.12h1.8M754.00,214.12h-1.8M548.90,211.88h1.8M754.00,211.88h-1.8M548.90,209.98h1.8M754.00,209.98h-1.8M548.90,208.34h1.8M754.00,208.34h-1.8M548.90,206.89h1.8M754.00,206.89h-1.8M548.90,205.60h3M754.00,205.60h-3" stroke="#333" stroke-width="0.7" fill="none"/>
<rect x="550.20" y="344.20" width="66.4" height="29.5" rx="2" fill="#fff" fill-opacity="0.8" stroke="#d8d8d8" stroke-width="0.6"/>
<path d="M552.00,349.30h14.5" stroke="#1b6db4" stroke-width="2"/>
<path d="M552.00,358.50h14.5" stroke="#0b850b" stroke-width="1.35"/>
<path d="M552.50,368.00h14.5" stroke="#1e88f0" stroke-width="2" stroke-dasharray="6.9,2.6"/>
<text x="571.10" y="351.50" font-size="7.0" textLength="33" lengthAdjust="spacingAndGlyphs">by volume</text>
<text x="571.10" y="361.00" font-size="7.0" textLength="26.5" lengthAdjust="spacingAndGlyphs">by mass</text>
<text x="571.10" y="370.60" font-size="7.0" textLength="42.3" lengthAdjust="spacingAndGlyphs">powerlaw tail</text>
<text x="548.90" y="383.80" font-size="9.2" text-anchor="middle">1</text>
<text x="578.20" y="383.80" font-size="9.2" text-anchor="middle" textLength="10" lengthAdjust="spacingAndGlyphs">10</text>
<text x="600.10" y="383.80" font-size="9.2" textLength="10" lengthAdjust="spacingAndGlyphs">10</text>
<text x="611.00" y="380.80" font-size="6.7">2</text>
<text x="629.40" y="383.80" font-size="9.2" textLength="10" lengthAdjust="spacingAndGlyphs">10</text>
<text x="640.30" y="380.80" font-size="6.7">3</text>
<text x="658.70" y="383.80" font-size="9.2" textLength="10" lengthAdjust="spacingAndGlyphs">10</text>
<text x="669.60" y="380.80" font-size="6.7">4</text>
<text x="688.00" y="383.80" font-size="9.2" textLength="10" lengthAdjust="spacingAndGlyphs">10</text>
<text x="698.90" y="380.80" font-size="6.7">5</text>
<text x="717.30" y="383.80" font-size="9.2" textLength="10" lengthAdjust="spacingAndGlyphs">10</text>
<text x="728.20" y="380.80" font-size="6.7">6</text>
<text x="746.60" y="383.80" font-size="9.2" textLength="10" lengthAdjust="spacingAndGlyphs">10</text>
<text x="757.50" y="380.80" font-size="6.7">7</text>
<text x="527.60" y="379.10" font-size="9.2" textLength="10" lengthAdjust="spacingAndGlyphs">10</text>
<path d="M538.70,374.00h3.4" stroke="#000" stroke-width="0.7"/>
<text x="542.50" y="375.90" font-size="6.6">2</text>
<text x="527.60" y="350.80" font-size="9.2" textLength="10" lengthAdjust="spacingAndGlyphs">10</text>
<path d="M538.70,345.70h3.4" stroke="#000" stroke-width="0.7"/>
<text x="542.50" y="347.60" font-size="6.6">1</text>
<text x="547.00" y="322.20" font-size="9.2" text-anchor="end">1</text>
<text x="546.90" y="293.90" font-size="9.2" text-anchor="end" textLength="10" lengthAdjust="spacingAndGlyphs">10</text>
<text x="532.30" y="265.30" font-size="9.2" textLength="10" lengthAdjust="spacingAndGlyphs">10</text>
<text x="542.80" y="262.30" font-size="6.7">2</text>
<text x="532.30" y="237.00" font-size="9.2" textLength="10" lengthAdjust="spacingAndGlyphs">10</text>
<text x="542.80" y="234.00" font-size="6.7">3</text>
<text x="532.30" y="208.70" font-size="9.2" textLength="10" lengthAdjust="spacingAndGlyphs">10</text>
<text x="542.80" y="205.70" font-size="6.7">4</text>
<text x="623.50" y="396.70" font-size="10" font-style="italic">n</text>
<text x="630.20" y="398.70" font-size="6.8">H</text>
<text x="635.30" y="399.80" font-size="4.8">2</text>
<text x="640.60" y="396.70" font-size="10">/</text>
<text x="644.90" y="396.70" font-size="10">[</text>
<text x="648.70" y="396.70" font-size="10" textLength="15.4" lengthAdjust="spacingAndGlyphs">cm</text>
<path d="M664.70,391.20h4.9" stroke="#000" stroke-width="0.75"/>
<text x="669.80" y="393.70" font-size="6.9">3</text>
<text x="675.50" y="396.70" font-size="10">]</text>
<g transform="translate(519.60,357.20) rotate(-90)">
<text transform="translate(0.70,0.00) scale(1.197,1)" x="-0.44" y="0" font-size="10.40">d</text>
<text transform="translate(10.20,0.00) scale(0.987,1)" x="-0.32" y="0" font-size="10.40" font-style="italic">N</text>
<text transform="translate(20.20,0.00) scale(1.246,1)" x="-0.00" y="0" font-size="10.40">/</text>
<text transform="translate(27.20,0.00) scale(1.197,1)" x="-0.44" y="0" font-size="10.40">d</text>
<text transform="translate(35.70,0.00) scale(1.207,1)" x="-0.70" y="0" font-size="10.40">log</text>
<text transform="translate(53.45,2.60) scale(1.098,1)" x="-0.56" y="0" font-size="7.40">10</text>
<text transform="translate(64.70,0.00) scale(0.800,1)" x="-0.64" y="0" font-size="10.40">(</text>
<text transform="translate(67.70,0.00) scale(1.187,1)" x="-0.17" y="0" font-size="10.40" font-style="italic">n</text>
<text transform="translate(75.40,2.60) scale(1.094,1)" x="-0.59" y="0" font-size="7.20">H</text>
<text transform="translate(80.80,3.80) scale(0.971,1)" x="-0.26" y="0" font-size="5.20">2</text>
<text transform="translate(85.20,0.00) scale(0.800,1)" x="-0.06" y="0" font-size="10.40">)</text>
<text transform="translate(93.40,0.00) scale(0.919,1)" x="-0.74" y="0" font-size="10.40">[</text>
<text transform="translate(97.10,0.00) scale(1.171,1)" x="-0.44" y="0" font-size="10.40">dex</text>
<text transform="translate(124.80,-3.90) scale(0.846,1)" x="-0.56" y="0" font-size="7.40">1</text>
<text transform="translate(130.50,0.00) scale(0.919,1)" x="-0.08" y="0" font-size="10.40">]</text>
<path d="M118.8,-6.4h4.3" stroke="#000" stroke-width="0.8"/>
</g>
<g class="t">
<text transform="translate(553.25,219.40) scale(1.059,1)" x="-0.98" y="0" font-size="14.50">l</text>
<text transform="translate(557.10,219.40) scale(1.027,1)" x="-0.61" y="0" font-size="14.50">g</text>
<path d="M572.00,208.80L569.00,214.40L572.00,220.20" stroke="#000" stroke-width="1.1" fill="none"/>
<text transform="translate(573.00,219.40) scale(0.879,1)" x="-0.24" y="0" font-size="14.50" font-style="italic">n</text>
<text transform="translate(581.40,220.50) scale(1.108,1)" x="-0.69" y="0" font-size="8.40">H</text>
<text transform="translate(587.30,222.20) scale(1.204,1)" x="-0.31" y="0" font-size="6.20">2</text>
<path d="M594.00,208.80L597.00,214.40L594.00,220.20" stroke="#000" stroke-width="1.1" fill="none"/>
<text transform="translate(601.60,219.10) scale(1.022,1)" x="-0.71" y="0" font-size="14.50">=</text>
<text transform="translate(614.10,219.40) scale(0.941,1)" x="-0.34" y="0" font-size="15.00">4.5</text>
</g>
</svg>
</body></html>
